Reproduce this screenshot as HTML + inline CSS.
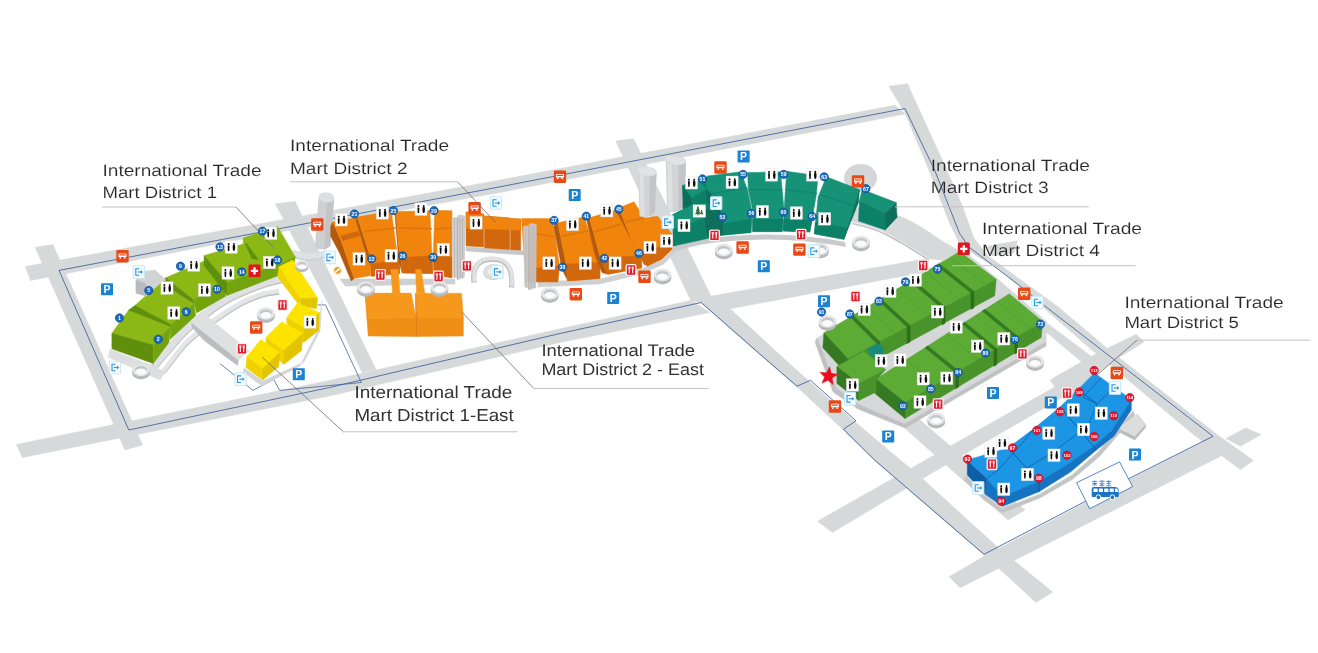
<!DOCTYPE html>
<html><head><meta charset="utf-8"><title>International Trade Mart Map</title>
<style>
html,body{margin:0;padding:0;background:#fff;}
body{width:1318px;height:653px;overflow:hidden;font-family:"Liberation Sans",sans-serif;}
svg{display:block;}
text{font-family:"Liberation Sans",sans-serif;}
</style></head><body>
<svg width="1318" height="653" viewBox="0 0 1318 653">
<defs><filter id="soft" filterUnits="userSpaceOnUse" x="0" y="0" width="1318" height="653"><feGaussianBlur stdDeviation="0.45"/></filter></defs>
<rect width="1318" height="653" fill="#ffffff"/>
<g filter="url(#soft)">
<g id="roads">
<polygon points="25.3,266.5 500.0,180.0 895.0,105.3 905.0,114.0 500.0,192.5 272.0,233.5 30.6,280.5" fill="#d6d9d9"  stroke="#d6d9d9" stroke-width="0.5" stroke-linejoin="round"/>
<polygon points="35.2,247.5 52.8,244.4 142.5,445.0 125.0,450.0" fill="#d6d9d9"  stroke="#d6d9d9" stroke-width="0.5" stroke-linejoin="round"/>
<polygon points="16.2,444.5 329.5,380.5 560.0,328.8 691.0,300.4 710.0,312.5 560.0,342.5 329.5,396.0 22.5,457.5" fill="#d6d9d9"  stroke="#d6d9d9" stroke-width="0.5" stroke-linejoin="round"/>
<polygon points="275.3,203.8 295.2,201.6 350.0,316.0 376.0,369.5 362.0,372.5 336.0,318.0" fill="#d6d9d9"  stroke="#d6d9d9" stroke-width="0.5" stroke-linejoin="round"/>
<polygon points="615.7,141.0 633.5,138.7 712.0,298.0 691.0,301.0" fill="#d6d9d9"  stroke="#d6d9d9" stroke-width="0.5" stroke-linejoin="round"/>
<polygon points="691.0,301.0 701.2,303.0 760.0,354.9 797.0,386.9 843.4,429.9 874.6,460.7 984.0,555.0 1036.0,602.4 1052.6,592.1 997.0,546.6 921.1,477.5 857.0,423.6 792.9,366.8 730.0,308.8 712.0,297.0" fill="#d6d9d9"  stroke="#d6d9d9" stroke-width="0.5" stroke-linejoin="round"/>
<polygon points="710.0,296.2 925.0,259.0 925.0,272.0 730.0,308.8" fill="#d6d9d9"  stroke="#d6d9d9" stroke-width="0.5" stroke-linejoin="round"/>
<polygon points="888.8,86.2 907.5,83.8 946.8,170.0 962.0,205.0 973.7,237.7 987.6,255.6 1019.5,279.0 1057.4,306.2 1106.2,347.5 1217.0,434.5 1253.4,460.6 1240.4,469.7 1194.0,435.0 1091.0,349.2 1045.6,309.6 1000.0,270.0 975.0,255.0 959.7,243.7 949.8,223.8 928.9,170.0 905.0,113.0" fill="#d6d9d9"  stroke="#d6d9d9" stroke-width="0.5" stroke-linejoin="round"/>
<polygon points="988.0,246.0 1017.5,240.7 1014.0,253.0 992.0,256.0" fill="#d6d9d9"  stroke="#d6d9d9" stroke-width="0.5" stroke-linejoin="round"/>
<path d="M852,212 L862,205 Q897,211 926,229.8 Q945,244 963,252 L955,262 L929,259 Q908,244 886,233 Q872,226 852,222 Z" fill="#d6d9d9"/>
<path d="M929,260.5 Q908,245.5 886,234.5 Q872,227.5 852,223.5" fill="none" stroke="#c3c4c6" stroke-width="1.6"/>
<polygon points="949.1,576.8 984.0,556.3 1131.0,478.6 1213.0,437.0 1229.0,452.0 960.1,587.8" fill="#d6d9d9"  stroke="#d6d9d9" stroke-width="0.5" stroke-linejoin="round"/>
<polygon points="817.5,521.2 950.0,446.2 1060.0,384.0 1072.0,392.0 920.0,480.0 832.5,532.5" fill="#d6d9d9"  stroke="#d6d9d9" stroke-width="0.5" stroke-linejoin="round"/>
<polygon points="900.0,424.0 920.0,420.0 1025.0,510.0 1008.0,520.0" fill="#d6d9d9"  stroke="#d6d9d9" stroke-width="0.5" stroke-linejoin="round"/>
<polygon points="1041.4,328.1 1048.1,323.9 1091.9,356.8 1100.0,372.0 1084.3,364.3" fill="#d6d9d9"  stroke="#d6d9d9" stroke-width="0.5" stroke-linejoin="round"/>
<polygon points="1050.0,380.0 1090.0,357.0 1106.0,349.0 1118.0,358.0 1096.0,374.0 1080.0,390.0 1064.0,400.0" fill="#d6d9d9"  stroke="#d6d9d9" stroke-width="0.5" stroke-linejoin="round"/>
<polygon points="1106.0,349.0 1136.3,334.3 1144.0,342.0 1118.0,358.0" fill="#d6d9d9"  stroke="#d6d9d9" stroke-width="0.5" stroke-linejoin="round"/>
<polygon points="1226.0,438.4 1245.6,428.0 1261.2,434.5 1240.4,446.2" fill="#d6d9d9"  stroke="#d6d9d9" stroke-width="0.5" stroke-linejoin="round"/>
<path d="M293,250 Q308,257 324.5,251 L325,258 Q308,264.5 292,257 Z" fill="#cfd1d3"/>
<path d="M293,249.5 Q308,256 324.5,250.5 L324.8,256 Q308,262.5 292.5,255.5 Z" fill="#dfe0e2"/>
<polyline points="59.0,270.4 500.0,186.8 905.0,108.5 934.6,170.0 959.7,233.7 969.7,247.7 1019.5,285.5 1047.3,307.9 1114.7,360.1 1213.0,436.3 1131.0,477.5 984.0,554.3 874.6,460.0 843.4,429.2 856.0,420.8 810.5,380.3 797.0,386.2 760.0,354.2 701.2,302.5 560.0,333.5 329.5,387.5 128.8,430.0 59.0,270.4" fill="none" stroke="#44669f" stroke-width="0.9" stroke-linejoin="round"/>
<polyline points="220.0,363.6 245.9,384.5 252.8,390.4 273.7,379.5 279.7,390.4 361.3,382.5 325.5,304.9 317.5,304.9" fill="none" stroke="#44669f" stroke-width="0.8" />
</g>
<g id="d1">
<path d="M153.9,366.9 C157.6,362.6 169.6,348.2 176.0,341.2 C182.4,334.1 184.2,331.4 192.5,324.6 C200.8,317.9 214.6,307.1 225.6,300.7 C236.6,294.3 249.5,289.5 258.7,286.0 C267.9,282.5 277.3,280.8 281.0,279.8" fill="none" stroke="#c2c3c5" stroke-width="7.5" />
<path d="M153.9,365.6 C157.6,361.3 169.6,346.9 176.0,339.9 C182.4,332.8 184.2,330.1 192.5,323.3 C200.8,316.6 214.6,305.8 225.6,299.4 C236.6,293.0 249.5,288.2 258.7,284.7 C267.9,281.2 277.3,279.5 281.0,278.5" fill="none" stroke="#dfe0e2" stroke-width="7" />
<path d="M163.1,372.4 C166.8,367.8 179.0,351.5 185.1,344.8 C191.2,338.1 195.0,336.0 199.9,332.0 C204.8,328.0 207.9,325.5 214.6,320.9 C221.3,316.3 232.3,308.7 240.3,304.4 C248.3,300.1 255.9,297.2 262.4,295.2 C268.8,293.2 276.2,292.8 279.0,292.3" fill="none" stroke="#c2c3c5" stroke-width="5" />
<path d="M163.1,371.1 C166.8,366.5 179.0,350.2 185.1,343.5 C191.2,336.8 195.0,334.7 199.9,330.7 C204.8,326.7 207.9,324.2 214.6,319.6 C221.3,315.0 232.3,307.4 240.3,303.1 C248.3,298.8 255.9,295.9 262.4,293.9 C268.8,291.9 276.2,291.5 279.0,291.0" fill="none" stroke="#e4e5e6" stroke-width="4.4" />
<polygon points="110.0,349.0 153.0,366.0 165.0,372.0 160.0,380.0 108.0,357.0" fill="#dcdedf"  stroke="#dcdedf" stroke-width="0.5" stroke-linejoin="round"/>
<polygon points="111.9,333.2 128.5,310.2 170.8,325.8 153.3,345.1" fill="#8cb814"  stroke="#8cb814" stroke-width="0.5" stroke-linejoin="round"/>
<polygon points="111.9,333.2 153.3,345.1 153.3,363.5 111.9,348.8" fill="#5f8f0e"  stroke="#5f8f0e" stroke-width="0.5" stroke-linejoin="round"/>
<polygon points="153.3,345.1 170.8,325.8 168.9,342.4 153.3,363.5" fill="#73a410"  stroke="#73a410" stroke-width="0.5" stroke-linejoin="round"/>
<polygon points="134.9,305.6 160.5,282.4 194.0,303.5 171.0,324.5" fill="#8cb814"  stroke="#8cb814" stroke-width="0.5" stroke-linejoin="round"/>
<polygon points="134.9,305.6 171.0,324.5 170.8,326.5 128.5,310.2" fill="#5f8f0e"  stroke="#5f8f0e" stroke-width="0.5" stroke-linejoin="round"/>
<polygon points="171.0,324.5 194.0,303.5 195.6,315.7 169.9,339.6" fill="#73a410"  stroke="#73a410" stroke-width="0.5" stroke-linejoin="round"/>
<polygon points="165.8,277.8 204.1,260.9 225.6,283.5 193.4,299.7" fill="#8cb814"  stroke="#8cb814" stroke-width="0.5" stroke-linejoin="round"/>
<polygon points="165.8,277.8 193.4,299.7 194.0,303.5 160.5,282.4" fill="#5f8f0e"  stroke="#5f8f0e" stroke-width="0.5" stroke-linejoin="round"/>
<polygon points="193.4,299.7 225.6,283.5 225.6,296.2 196.5,313.0" fill="#73a410"  stroke="#73a410" stroke-width="0.5" stroke-linejoin="round"/>
<polygon points="204.1,255.6 243.2,244.1 243.2,238.0 277.6,226.5 295.3,257.1 279.2,264.0 227.1,282.4" fill="#8cb814"  stroke="#8cb814" stroke-width="0.5" stroke-linejoin="round"/>
<polygon points="204.1,255.6 227.1,282.4 227.1,295.4 204.1,265.5" fill="#5f8f0e"  stroke="#5f8f0e" stroke-width="0.5" stroke-linejoin="round"/>
<polygon points="227.1,282.4 279.2,264.0 295.3,257.1 293.0,268.0 278.4,275.5 227.1,295.4" fill="#73a410"  stroke="#73a410" stroke-width="0.5" stroke-linejoin="round"/>
<polygon points="245.0,243.5 247.0,244.0 258.5,260.0 252.0,258.5" fill="#5f8f0e"  stroke="#5f8f0e" stroke-width="0.5" stroke-linejoin="round"/>
<polygon points="139.0,272.0 155.0,270.0 166.0,280.0 160.5,283.0 146.0,296.0 136.0,293.0 136.0,280.0" fill="#d2d3d5"  stroke="#d2d3d5" stroke-width="0.5" stroke-linejoin="round"/>
<polygon points="136.0,280.0 146.0,284.0 146.0,296.0 136.0,293.0" fill="#b9babd"  stroke="#b9babd" stroke-width="0.5" stroke-linejoin="round"/>
<polygon points="191.6,322.4 238.5,360.1 237.5,365.5 203.5,340.0 192.0,327.0" fill="#bcbdbf"  stroke="#bcbdbf" stroke-width="0.5" stroke-linejoin="round"/>
<polygon points="191.6,322.4 205.4,315.0 249.5,350.9 238.5,360.1" fill="#dfe0e2"  stroke="#dfe0e2" stroke-width="0.5" stroke-linejoin="round"/>
<polygon points="244.0,368.0 263.0,381.0 304.0,362.0 320.0,331.0 322.0,300.0 318.0,330.0 300.0,366.0 262.0,386.0 243.0,372.0" fill="#d3d4d6"  stroke="#d3d4d6" stroke-width="0.5" stroke-linejoin="round"/>
<polygon points="278.7,266.9 292.6,260.0 317.5,297.8 300.6,298.8" fill="#fde300"  stroke="#fde300" stroke-width="0.5" stroke-linejoin="round"/>
<polygon points="278.7,266.9 300.6,298.8 299.6,306.0 277.7,277.0" fill="#f0d200"  stroke="#f0d200" stroke-width="0.5" stroke-linejoin="round"/>
<polygon points="300.6,298.8 317.5,297.8 316.5,308.5 300.6,306.5" fill="#e3c400"  stroke="#e3c400" stroke-width="0.5" stroke-linejoin="round"/>
<polygon points="286.7,317.7 297.6,302.8 319.5,312.7 303.6,327.6" fill="#fde300"  stroke="#fde300" stroke-width="0.5" stroke-linejoin="round"/>
<polygon points="286.7,317.7 303.6,327.6 303.6,342.6 286.7,323.0" fill="#f0d200"  stroke="#f0d200" stroke-width="0.5" stroke-linejoin="round"/>
<polygon points="303.6,327.6 319.5,312.7 318.5,330.6 303.6,342.6" fill="#e3c400"  stroke="#e3c400" stroke-width="0.5" stroke-linejoin="round"/>
<polygon points="265.8,337.6 281.7,321.7 302.6,333.6 283.7,350.5" fill="#fde300"  stroke="#fde300" stroke-width="0.5" stroke-linejoin="round"/>
<polygon points="265.8,337.6 283.7,350.5 283.7,364.5 266.8,348.5" fill="#f0d200"  stroke="#f0d200" stroke-width="0.5" stroke-linejoin="round"/>
<polygon points="283.7,350.5 302.6,333.6 301.6,350.5 283.7,364.5" fill="#e3c400"  stroke="#e3c400" stroke-width="0.5" stroke-linejoin="round"/>
<polygon points="246.9,356.5 260.8,339.6 279.7,352.5 262.8,368.4" fill="#fde300"  stroke="#fde300" stroke-width="0.5" stroke-linejoin="round"/>
<polygon points="246.9,356.5 262.8,368.4 262.8,380.0 245.9,367.4" fill="#f0d200"  stroke="#f0d200" stroke-width="0.5" stroke-linejoin="round"/>
<polygon points="262.8,368.4 279.7,352.5 278.7,366.4 262.8,380.0" fill="#e3c400"  stroke="#e3c400" stroke-width="0.5" stroke-linejoin="round"/>
</g>
<g id="d2">
<polygon points="340.0,279.0 455.0,279.0 455.0,284.0 345.0,286.0" fill="#cfd0d2"  stroke="#cfd0d2" stroke-width="0.5" stroke-linejoin="round"/>
<path d="M318.4,199 Q318.6,193 326.3,192.6 Q334,193 334,199 L330.3,246 Q323,252.5 315,247 Z" fill="#cfd0d2"/>
<path d="M327,201 L334,199 L330.3,246 L324,250 Z" fill="#c3c4c7"/>
<ellipse cx="326.2" cy="197.6" rx="7.8" ry="4.6" fill="#dedfe1" transform="rotate(12 326.2 197.6)"/>
<polygon points="330.7,226.0 332.7,221.9 341.0,240.5 354.1,278.4 351.3,281.0 339.6,252.9 330.7,236.3" fill="#b25a08"  stroke="#b25a08" stroke-width="0.5" stroke-linejoin="round"/>
<polygon points="332.7,221.9 356.2,217.7 363.1,236.3 369.3,254.3 370.6,275.6 354.1,278.4 341.0,240.5" fill="#f0840e"  stroke="#f0840e" stroke-width="0.5" stroke-linejoin="round"/>
<polygon points="340.6,235.9 358.2,231.3 359.8,235.8 342.6,240.8" fill="#d2680a"  stroke="#d2680a" stroke-width="0.5" stroke-linejoin="round"/>
<polygon points="356.0,220.5 357.5,217.1 369.3,254.3 370.6,266.0 367.0,256.0" fill="#b25a08"  stroke="#b25a08" stroke-width="0.5" stroke-linejoin="round"/>
<polygon points="357.5,217.1 391.3,210.8 396.1,246.0 399.6,258.4 399.6,273.6 371.3,276.3 369.3,254.3" fill="#f0840e"  stroke="#f0840e" stroke-width="0.5" stroke-linejoin="round"/>
<polygon points="370.6,264.6 399.6,258.4 399.6,273.6 371.3,276.3" fill="#d2680a"  stroke="#d2680a" stroke-width="0.5" stroke-linejoin="round"/>
<polyline points="364.5,231.5 395.5,228.0" fill="none" stroke="#de760a" stroke-width="1.6" />
<polygon points="395.0,215.0 396.1,211.5 398.2,243.2 401.0,258.4 402.3,272.9 399.0,262.0" fill="#b25a08"  stroke="#b25a08" stroke-width="0.5" stroke-linejoin="round"/>
<polygon points="396.1,211.5 429.9,210.8 432.0,255.6 432.7,273.6 402.3,272.9 401.0,258.4 398.2,243.2" fill="#f0840e"  stroke="#f0840e" stroke-width="0.5" stroke-linejoin="round"/>
<polygon points="401.6,257.7 432.0,255.6 432.7,273.6 402.3,272.9" fill="#d2680a"  stroke="#d2680a" stroke-width="0.5" stroke-linejoin="round"/>
<polyline points="398.2,228.0 431.9,228.8" fill="none" stroke="#de760a" stroke-width="1.6" />
<polygon points="434.7,210.2 452.0,210.8 452.0,277.7 434.0,274.9 433.3,255.6" fill="#f0840e"  stroke="#f0840e" stroke-width="0.5" stroke-linejoin="round"/>
<polygon points="433.3,255.6 452.0,257.0 452.0,277.7 434.0,274.9" fill="#d2680a"  stroke="#d2680a" stroke-width="0.5" stroke-linejoin="round"/>
<polyline points="434.5,229.0 452.0,228.0" fill="none" stroke="#de760a" stroke-width="1.6" />
<polygon points="466.0,212.0 483.7,214.0 483.7,247.0 466.0,246.0" fill="#d2680a"  stroke="#d2680a" stroke-width="0.5" stroke-linejoin="round"/>
<polygon points="466.0,212.0 483.7,214.0 483.7,229.0 466.0,228.0" fill="#f0840e"  stroke="#f0840e" stroke-width="0.5" stroke-linejoin="round"/>
<polygon points="484.5,216.0 509.8,218.0 509.8,250.6 484.5,249.0" fill="#d2680a"  stroke="#d2680a" stroke-width="0.5" stroke-linejoin="round"/>
<polygon points="484.5,216.0 509.8,218.0 509.8,229.5 484.5,229.0" fill="#f0840e"  stroke="#f0840e" stroke-width="0.5" stroke-linejoin="round"/>
<polygon points="510.6,218.6 520.7,219.0 520.7,250.6 510.6,250.6" fill="#d2680a"  stroke="#d2680a" stroke-width="0.5" stroke-linejoin="round"/>
<polygon points="510.6,218.6 520.7,219.0 520.7,230.0 510.6,230.0" fill="#f0840e"  stroke="#f0840e" stroke-width="0.5" stroke-linejoin="round"/>
<polygon points="466.0,247.0 524.0,251.0 524.0,255.0 466.0,251.0" fill="#c6c7c9"  stroke="#c6c7c9" stroke-width="0.5" stroke-linejoin="round"/>
<polygon points="538.0,282.0 600.0,279.0 640.0,269.5 662.0,260.0 674.0,249.0 675.0,253.0 663.0,264.5 641.0,274.0 600.0,284.0 538.0,287.0" fill="#cfd0d2"  stroke="#cfd0d2" stroke-width="0.5" stroke-linejoin="round"/>
<polygon points="521.6,218.6 551.9,218.6 555.3,237.2 559.5,265.8 557.8,281.8 526.0,281.8 523.0,240.0" fill="#f0840e"  stroke="#f0840e" stroke-width="0.5" stroke-linejoin="round"/>
<polygon points="526.0,269.0 559.5,265.8 557.8,281.8 526.0,281.8" fill="#d2680a"  stroke="#d2680a" stroke-width="0.5" stroke-linejoin="round"/>
<polyline points="525.0,232.0 554.5,236.5" fill="none" stroke="#de760a" stroke-width="1.6" />
<polygon points="553.6,226.2 557.8,222.8 566.2,264.1 567.9,280.9 562.0,269.2" fill="#b25a08"  stroke="#b25a08" stroke-width="0.5" stroke-linejoin="round"/>
<polygon points="557.8,222.8 583.9,216.9 599.9,262.4 599.9,278.4 567.9,280.9 566.2,264.1" fill="#f0840e"  stroke="#f0840e" stroke-width="0.5" stroke-linejoin="round"/>
<polygon points="566.2,264.1 599.9,262.4 599.9,278.4 567.9,280.9" fill="#d2680a"  stroke="#d2680a" stroke-width="0.5" stroke-linejoin="round"/>
<polyline points="560.5,236.5 588.5,231.0" fill="none" stroke="#de760a" stroke-width="1.6" />
<polygon points="586.9,221.2 589.4,217.8 600.3,257.4 607.9,274.3 602.0,272.6 595.3,255.8" fill="#b25a08"  stroke="#b25a08" stroke-width="0.5" stroke-linejoin="round"/>
<polygon points="589.4,217.8 617.5,209.4 641.0,255.8 641.0,268.4 607.9,274.3 600.3,257.4" fill="#f0840e"  stroke="#f0840e" stroke-width="0.5" stroke-linejoin="round"/>
<polygon points="600.3,257.4 641.0,255.8 642.0,267.4 607.9,274.3" fill="#d2680a"  stroke="#d2680a" stroke-width="0.5" stroke-linejoin="round"/>
<polyline points="593.5,232.0 621.5,224.0" fill="none" stroke="#de760a" stroke-width="1.6" />
<polygon points="616.3,211.1 618.9,207.7 637.4,252.4 647.5,265.9 644.1,264.2" fill="#b25a08"  stroke="#b25a08" stroke-width="0.5" stroke-linejoin="round"/>
<polygon points="618.9,207.7 634.0,201.8 644.1,217.9 657.6,216.2 671.9,233.9 672.8,248.2 661.8,259.1 647.5,265.9 637.4,255.8" fill="#f0840e"  stroke="#f0840e" stroke-width="0.5" stroke-linejoin="round"/>
<polygon points="637.4,255.8 661.8,246.0 672.8,248.2 661.8,259.1 647.5,265.9" fill="#d2680a"  stroke="#d2680a" stroke-width="0.5" stroke-linejoin="round"/>
<polyline points="625.6,222.0 644.1,217.9" fill="none" stroke="#de760a" stroke-width="1.6" />
<path d="M451.7,219.3 Q451.7,217.3 453.7,217.3 L457.37,217.3 L457.37,278.6 L452.7,276.6 Z" fill="#cfcdcd" fill-opacity="0.93"/>
<path d="M457.37,216.8 Q457.37,214.8 459.37,214.8 L463.2,215.3 Q465.2,215.3 465.2,217.3 L464.7,277.6 L457.37,280.1 Z" fill="#c9c7c8" fill-opacity="0.93"/>
<path d="M454.4,218.3 L454.4,277.6" stroke="#b7b5b6" stroke-width="0.9" fill="none"/>
<path d="M460.07,218.3 L460.07,277.6" stroke="#b7b5b6" stroke-width="0.9" fill="none"/>
<path d="M462.5,218.3 L462.5,277.6" stroke="#b7b5b6" stroke-width="0.9" fill="none"/>
<path d="M457.37,217.3 L457.37,279.6" stroke="#aeacad" stroke-width="1" fill="none"/>
<path d="M523.3,227.7 Q523.3,225.7 525.3,225.7 L528.928,225.7 L528.928,288.7 L524.3,286.7 Z" fill="#cfcdcd" fill-opacity="0.93"/>
<path d="M528.928,225.2 Q528.928,223.2 530.928,223.2 L534.7,223.7 Q536.7,223.7 536.7,225.7 L536.2,287.7 L528.928,290.2 Z" fill="#c9c7c8" fill-opacity="0.93"/>
<path d="M525.98,226.7 L525.98,287.7" stroke="#b7b5b6" stroke-width="0.9" fill="none"/>
<path d="M531.6080000000001,226.7 L531.6080000000001,287.7" stroke="#b7b5b6" stroke-width="0.9" fill="none"/>
<path d="M534.02,226.7 L534.02,287.7" stroke="#b7b5b6" stroke-width="0.9" fill="none"/>
<path d="M528.928,225.7 L528.928,289.7" stroke="#aeacad" stroke-width="1" fill="none"/>
<polygon points="390.8,269.4 398.1,269.4 400.0,293.3 392.6,293.3" fill="#f6981e"  stroke="#f6981e" stroke-width="0.5" stroke-linejoin="round"/>
<polygon points="415.6,269.4 421.0,269.4 424.8,293.3 416.5,293.3" fill="#f6981e"  stroke="#f6981e" stroke-width="0.5" stroke-linejoin="round"/>
<polygon points="365.0,293.3 411.0,293.3 415.6,317.2 368.7,319.0" fill="#f6981e"  stroke="#f6981e" stroke-width="0.5" stroke-linejoin="round"/>
<polygon points="365.0,293.3 368.7,319.0 415.6,317.2 415.6,336.5 368.2,336.0" fill="#f08f18"  stroke="#f08f18" stroke-width="0.5" stroke-linejoin="round"/>
<polygon points="365.0,293.3 411.0,293.3 415.6,317.2 368.7,319.0" fill="#f6981e"  stroke="#f6981e" stroke-width="0.5" stroke-linejoin="round"/>
<polygon points="415.6,293.3 461.5,293.3 463.4,317.2 417.0,318.0" fill="#f6981e"  stroke="#f6981e" stroke-width="0.5" stroke-linejoin="round"/>
<polygon points="417.0,318.0 463.4,317.2 463.4,336.0 417.4,336.5" fill="#f08f18"  stroke="#f08f18" stroke-width="0.5" stroke-linejoin="round"/>
<polygon points="415.6,293.3 417.0,318.0 417.4,336.5 415.6,336.5" fill="#e0801a"  stroke="#e0801a" stroke-width="0.5" stroke-linejoin="round"/>
<ellipse cx="493.6" cy="272.5" rx="10.5" ry="7.6" fill="#c9cbcd"/>
<ellipse cx="493.6" cy="271.3" rx="10.5" ry="7.6" fill="#dddee0"/>
<ellipse cx="493.6" cy="271.6" rx="6" ry="4" fill="#eeeeef"/>
<path d="M474,282.5 Q471,258 494.7,259.5 Q514,260.5 511.5,287.5" fill="none" stroke="#bfc0c3" stroke-width="5.2"/>
<path d="M474.4,281.5 Q471.5,257 494.7,258.5 Q514.4,259.5 511.9,286.5" fill="none" stroke="#e0e1e3" stroke-width="3.6"/>
</g>
<g id="d3">
<ellipse cx="860.5" cy="178" rx="16.5" ry="14" fill="#d5d6d8"/>
<path d="M672,247 Q700,238 730,236 Q790,231 845,242 L846,247 Q790,236 730,241 Q700,243 673,252 Z" fill="#c9cacc"/>
<path d="M638,172.4 Q638,167.4 647.25,166.9 Q656.5,167.4 656.5,172.4 L655.0,212 Q647.25,220 639.5,216 Z" fill="#d3d4d6"/>
<path d="M649.47,173.4 L656.5,172.4 L655.0,212 L649.47,216.5 Z" fill="#c4c5c8"/>
<path d="M639.5,173.4 L643.55,174.4 L644.55,216 L640.5,215.5 Z" fill="#dfe0e2"/>
<ellipse cx="647.25" cy="171.4" rx="9.25" ry="4.2" fill="#e1e2e4" transform="rotate(10 647.25 171.4)"/>
<path d="M665.7,161.4 Q665.7,156.4 675.85,155.9 Q686,156.4 686,161.4 L684.5,206.7 Q675.85,214.7 667.2,210.7 Z" fill="#d3d4d6"/>
<path d="M678.2860000000001,162.4 L686,161.4 L684.5,206.7 L678.2860000000001,211.2 Z" fill="#c4c5c8"/>
<path d="M667.2,162.4 L671.7900000000001,163.4 L672.7900000000001,210.7 L668.2,210.2 Z" fill="#dfe0e2"/>
<ellipse cx="675.85" cy="160.4" rx="10.149999999999977" ry="4.2" fill="#e1e2e4" transform="rotate(10 675.85 160.4)"/>
<polygon points="683.0,187.0 707.0,177.0 724.0,217.0 724.0,235.0 673.5,245.9 672.6,214.7 683.2,209.5" fill="#0f8068"  stroke="#0f8068" stroke-width="0.5" stroke-linejoin="round"/>
<polygon points="682.7,186.0 692.0,199.0 693.0,205.0 683.2,210.0" fill="#0c6e5a"  stroke="#0c6e5a" stroke-width="0.5" stroke-linejoin="round"/>
<polygon points="682.7,185.3 698.7,179.4 706.3,189.5 691.2,198.7" fill="#149277"  stroke="#149277" stroke-width="0.5" stroke-linejoin="round"/>
<polygon points="682.7,185.3 691.2,198.7 692.0,206.0 683.5,199.6" fill="#0c6e5a"  stroke="#0c6e5a" stroke-width="0.5" stroke-linejoin="round"/>
<polygon points="691.2,198.7 706.3,189.5 710.5,193.7 712.0,204.0 692.0,206.0" fill="#0f8068"  stroke="#0f8068" stroke-width="0.5" stroke-linejoin="round"/>
<polygon points="672.6,214.7 692.8,204.6 706.3,208.9 704.6,218.1 673.5,229.9" fill="#149277"  stroke="#149277" stroke-width="0.5" stroke-linejoin="round"/>
<polygon points="673.5,229.9 704.6,218.1 707.2,234.1 673.5,245.9" fill="#0f8068"  stroke="#0f8068" stroke-width="0.5" stroke-linejoin="round"/>
<polygon points="704.6,218.1 706.3,208.9 723.2,217.3 724.0,235.0 707.2,234.1" fill="#0c6e5a"  stroke="#0c6e5a" stroke-width="0.5" stroke-linejoin="round"/>
<polygon points="707.2,176.0 740.9,171.8 747.6,190.3 751.8,210.5 751.0,232.4 724.0,235.0 723.2,217.3 710.5,193.7 706.3,189.5" fill="#149277"  stroke="#149277" stroke-width="0.5" stroke-linejoin="round"/>
<polygon points="723.5,224.0 751.5,219.0 751.0,232.4 724.0,235.0" fill="#0f8068"  stroke="#0f8068" stroke-width="0.5" stroke-linejoin="round"/>
<polyline points="710.5,193.7 747.6,188.0" fill="none" stroke="#108570" stroke-width="1.2" />
<polygon points="706.3,189.5 710.5,193.7 723.2,217.3 718.0,216.0 707.0,200.0" fill="#0c6e5a"  stroke="#0c6e5a" stroke-width="0.5" stroke-linejoin="round"/>
<polygon points="747.6,172.6 780.5,171.8 783.8,207.2 782.1,231.6 752.7,231.6 752.7,210.5 748.4,190.3" fill="#149277"  stroke="#149277" stroke-width="0.5" stroke-linejoin="round"/>
<polygon points="752.7,219.0 783.0,219.0 782.1,231.6 752.7,231.6" fill="#0f8068"  stroke="#0f8068" stroke-width="0.5" stroke-linejoin="round"/>
<polyline points="748.4,189.5 782.0,190.0" fill="none" stroke="#108570" stroke-width="1.2" />
<polygon points="786.8,171.3 818.1,175.8 816.3,195.1 809.8,231.9 783.2,231.0 785.0,195.1" fill="#149277"  stroke="#149277" stroke-width="0.5" stroke-linejoin="round"/>
<polygon points="783.8,219.0 812.0,220.5 809.8,231.9 783.2,231.0" fill="#0f8068"  stroke="#0f8068" stroke-width="0.5" stroke-linejoin="round"/>
<polyline points="785.5,189.5 817.0,193.5" fill="none" stroke="#108570" stroke-width="1.2" />
<polygon points="826.4,176.8 859.4,189.6 852.1,213.5 843.8,239.3 814.4,233.8 818.1,197.0" fill="#149277"  stroke="#149277" stroke-width="0.5" stroke-linejoin="round"/>
<polygon points="815.3,222.0 847.5,228.0 843.8,239.3 814.4,233.8" fill="#0f8068"  stroke="#0f8068" stroke-width="0.5" stroke-linejoin="round"/>
<polygon points="859.4,189.6 858.5,202.4 843.8,239.3 852.1,213.5" fill="#0c6e5a"  stroke="#0c6e5a" stroke-width="0.5" stroke-linejoin="round"/>
<polyline points="820.0,194.5 855.0,206.0" fill="none" stroke="#108570" stroke-width="1.2" />
<polygon points="862.2,189.6 896.2,202.5 885.2,213.5 859.4,200.7" fill="#149277"  stroke="#149277" stroke-width="0.5" stroke-linejoin="round"/>
<polygon points="859.4,200.7 885.2,213.5 885.2,230.0 858.5,220.9" fill="#0f8068"  stroke="#0f8068" stroke-width="0.5" stroke-linejoin="round"/>
<polygon points="885.2,213.5 896.2,202.5 897.1,217.2 885.2,230.0" fill="#0c6e5a"  stroke="#0c6e5a" stroke-width="0.5" stroke-linejoin="round"/>
</g>
<g id="d4">
<polygon points="817.0,338.0 822.0,350.0 836.0,388.0 860.0,405.0 905.0,424.0 1046.0,342.0 1047.0,322.0 1000.0,281.0 962.0,249.0 940.0,262.0" fill="#d6d7d9"  stroke="#d6d7d9" stroke-width="0.5" stroke-linejoin="round"/>
<polygon points="817.0,338.0 822.0,350.0 836.0,388.0 860.0,405.0 905.0,424.0 1046.0,342.0 1046.0,346.0 905.0,428.0 858.0,409.0 833.0,392.0 815.0,342.0" fill="#bfc0c2"  stroke="#bfc0c2" stroke-width="0.5" stroke-linejoin="round"/>
<polygon points="823.9,332.8 959.8,251.6 996.2,279.3 847.8,358.7" fill="#5bab35"  stroke="#5bab35" stroke-width="0.5" stroke-linejoin="round"/>
<polygon points="847.8,358.7 996.2,279.3 994.7,295.8 847.8,375.2" fill="#48942a"  stroke="#48942a" stroke-width="0.5" stroke-linejoin="round"/>
<polygon points="823.9,332.8 847.8,358.7 847.8,375.2 822.9,347.8" fill="#367a20"  stroke="#367a20" stroke-width="0.5" stroke-linejoin="round"/>
<polyline points="867.4,306.8 895.3,333.3" fill="none" stroke="#52a02f" stroke-width="1" />
<polyline points="897.3,289.0 927.9,315.8" fill="none" stroke="#52a02f" stroke-width="1" />
<polyline points="925.8,271.9 959.1,299.1" fill="none" stroke="#52a02f" stroke-width="1" />
<polyline points="950.3,257.3 985.8,284.9" fill="none" stroke="#52a02f" stroke-width="1" />
<polygon points="853.1,315.3 879.7,341.6 876.8,343.4 850.2,317.1" fill="#367a20"  stroke="#367a20" stroke-width="0.5" stroke-linejoin="round"/>
<polygon points="879.7,341.6 876.8,343.4 876.8,359.9 879.7,358.1" fill="#2f6c1b"  stroke="#2f6c1b" stroke-width="0.5" stroke-linejoin="round"/>
<polygon points="881.0,298.7 910.1,325.4 907.2,327.1 878.1,300.4" fill="#367a20"  stroke="#367a20" stroke-width="0.5" stroke-linejoin="round"/>
<polygon points="910.1,325.4 907.2,327.1 907.2,343.6 910.1,341.9" fill="#2f6c1b"  stroke="#2f6c1b" stroke-width="0.5" stroke-linejoin="round"/>
<polygon points="912.9,279.6 945.0,306.7 942.1,308.4 910.0,281.4" fill="#367a20"  stroke="#367a20" stroke-width="0.5" stroke-linejoin="round"/>
<polygon points="945.0,306.7 942.1,308.4 942.1,324.9 945.0,323.2" fill="#2f6c1b"  stroke="#2f6c1b" stroke-width="0.5" stroke-linejoin="round"/>
<polygon points="939.4,263.8 973.9,291.2 971.0,293.0 936.5,265.5" fill="#367a20"  stroke="#367a20" stroke-width="0.5" stroke-linejoin="round"/>
<polygon points="973.9,291.2 971.0,293.0 971.0,309.5 973.9,307.7" fill="#2f6c1b"  stroke="#2f6c1b" stroke-width="0.5" stroke-linejoin="round"/>
<polygon points="866.7,348.7 878.7,343.7 883.6,347.7 882.6,355.7 871.7,356.7" fill="#1b8a78"  stroke="#1b8a78" stroke-width="0.5" stroke-linejoin="round"/>
<polygon points="876.0,379.0 1009.3,293.8 1042.7,321.5 905.0,402.5" fill="#5bab35"  stroke="#5bab35" stroke-width="0.5" stroke-linejoin="round"/>
<polygon points="905.0,402.5 1042.7,321.5 1041.2,337.5 905.0,418.5" fill="#48942a"  stroke="#48942a" stroke-width="0.5" stroke-linejoin="round"/>
<polygon points="876.0,379.0 905.0,402.5 905.0,418.5 875.0,393.5" fill="#367a20"  stroke="#367a20" stroke-width="0.5" stroke-linejoin="round"/>
<polyline points="906.0,359.8 936.0,384.3" fill="none" stroke="#52a02f" stroke-width="1" />
<polyline points="946.6,333.8 978.0,359.6" fill="none" stroke="#52a02f" stroke-width="1" />
<polyline points="975.3,315.5 1007.6,342.2" fill="none" stroke="#52a02f" stroke-width="1" />
<polyline points="997.3,301.5 1030.3,328.8" fill="none" stroke="#52a02f" stroke-width="1" />
<polygon points="927.9,345.9 958.6,371.0 955.7,372.8 925.0,347.7" fill="#367a20"  stroke="#367a20" stroke-width="0.5" stroke-linejoin="round"/>
<polygon points="958.6,371.0 955.7,372.8 955.7,388.8 958.6,387.0" fill="#2f6c1b"  stroke="#2f6c1b" stroke-width="0.5" stroke-linejoin="round"/>
<polygon points="964.9,322.2 996.8,348.5 994.0,350.3 962.0,324.0" fill="#367a20"  stroke="#367a20" stroke-width="0.5" stroke-linejoin="round"/>
<polygon points="996.8,348.5 994.0,350.3 994.0,366.3 996.8,364.5" fill="#2f6c1b"  stroke="#2f6c1b" stroke-width="0.5" stroke-linejoin="round"/>
<polygon points="985.0,309.3 1017.6,336.2 1014.8,338.1 982.2,311.1" fill="#367a20"  stroke="#367a20" stroke-width="0.5" stroke-linejoin="round"/>
<polygon points="1017.6,336.2 1014.8,338.1 1014.8,354.1 1017.6,352.2" fill="#2f6c1b"  stroke="#2f6c1b" stroke-width="0.5" stroke-linejoin="round"/>
<polygon points="836.9,366.6 863.7,351.7 885.6,369.6 858.8,383.5" fill="#5bab35"  stroke="#5bab35" stroke-width="0.5" stroke-linejoin="round"/>
<polygon points="836.9,366.6 858.8,383.5 858.8,400.4 836.9,383.5" fill="#367a20"  stroke="#367a20" stroke-width="0.5" stroke-linejoin="round"/>
<polygon points="858.8,383.5 885.6,369.6 876.2,380.0 876.2,392.0 858.8,400.4" fill="#48942a"  stroke="#48942a" stroke-width="0.5" stroke-linejoin="round"/>
</g>
<g id="d5">
<polygon points="966.0,476.0 985.0,496.0 1002.0,509.0 1040.0,494.0 1072.0,475.0 1098.0,452.0 1133.0,411.0 1135.0,415.0 1100.0,456.0 1073.0,479.0 1040.0,498.0 1002.0,513.0 984.0,500.0 964.0,480.0" fill="#c3c4c6"  stroke="#c3c4c6" stroke-width="0.5" stroke-linejoin="round"/>
<polygon points="1118.0,428.0 1134.7,436.0 1145.7,424.1 1145.7,427.5 1134.7,440.0 1118.0,431.5" fill="#bbbcbe"  stroke="#bbbcbe" stroke-width="0.5" stroke-linejoin="round"/>
<polygon points="1118.0,428.0 1137.5,414.0 1145.7,424.1 1134.7,436.0" fill="#dcdddf"  stroke="#dcdddf" stroke-width="0.5" stroke-linejoin="round"/>
<polygon points="967.3,460.0 1008.0,448.0 1034.0,428.5 1060.0,407.0 1078.0,389.5 1094.5,373.0 1131.3,399.5 1111.8,430.7 1093.6,446.3 1067.5,464.5 1038.9,481.4 1002.5,497.0 986.8,478.8" fill="#1c95e4"  stroke="#1c95e4" stroke-width="0.5" stroke-linejoin="round"/>
<polygon points="967.3,460.6 986.8,478.8 985.5,494.5 967.3,474.9" fill="#0e5fa6"  stroke="#0e5fa6" stroke-width="0.5" stroke-linejoin="round"/>
<polygon points="986.8,478.8 1002.5,497.0 1038.9,481.4 1067.5,464.5 1093.6,446.3 1111.8,430.7 1131.3,399.5 1131.3,409.9 1114.0,436.0 1096.2,450.2 1070.1,472.3 1038.9,491.8 1002.5,506.2 985.5,494.5" fill="#1273c2"  stroke="#1273c2" stroke-width="0.5" stroke-linejoin="round"/>
<polyline points="1008.0,448.0 1038.9,481.4" fill="none" stroke="#0e5fa6" stroke-width="1" />
<polyline points="1034.0,428.5 1024.0,441.0 1000.0,468.0 986.8,478.8" fill="none" stroke="#0e5fa6" stroke-width="0.8" />
<polyline points="1060.0,407.0 1093.6,446.3" fill="none" stroke="#0e5fa6" stroke-width="1" />
<polyline points="1078.0,389.5 1097.0,404.0" fill="none" stroke="#0e5fa6" stroke-width="1" />
<polyline points="1101.0,378.0 1083.0,397.0 1097.0,404.0 1110.0,391.0" fill="none" stroke="#0e5fa6" stroke-width="0.8" />
<polyline points="1097.0,404.0 1088.0,426.0 1053.0,452.0 1024.0,470.0" fill="none" stroke="#0e5fa6" stroke-width="0.8" />
<polyline points="1038.9,481.4 1038.9,491.8" fill="none" stroke="#0e5fa6" stroke-width="1" />
<polyline points="1093.6,446.3 1096.2,450.2" fill="none" stroke="#0e5fa6" stroke-width="1" />
<polygon points="1076.6,482.7 1119.6,461.9 1132.6,486.6 1089.7,508.8" fill="#ffffff" stroke="#2a6fb5" stroke-width="0.8"/>
</g>
<g id="icons">
<path d="M132.2,370 v3.2 a8.8,6.2 0 0 0 17.6,0 v-3.2 z" fill="#b7b9bc"/><ellipse cx="141" cy="370" rx="8.8" ry="6.2" fill="#e4e5e7"/><ellipse cx="141" cy="370" rx="5.984000000000001" ry="4.0920000000000005" fill="#c3c5c8"/><ellipse cx="141" cy="371.6" rx="5.456" ry="3.1" fill="#fbfbfb"/>
<path d="M257.2,313.5 v3.2 a8.8,6.2 0 0 0 17.6,0 v-3.2 z" fill="#b7b9bc"/><ellipse cx="266" cy="313.5" rx="8.8" ry="6.2" fill="#e4e5e7"/><ellipse cx="266" cy="313.5" rx="5.984000000000001" ry="4.0920000000000005" fill="#c3c5c8"/><ellipse cx="266" cy="315.1" rx="5.456" ry="3.1" fill="#fbfbfb"/>
<path d="M357.2,287.5 v3.2 a8.8,6.2 0 0 0 17.6,0 v-3.2 z" fill="#b7b9bc"/><ellipse cx="366" cy="287.5" rx="8.8" ry="6.2" fill="#e4e5e7"/><ellipse cx="366" cy="287.5" rx="5.984000000000001" ry="4.0920000000000005" fill="#c3c5c8"/><ellipse cx="366" cy="289.1" rx="5.456" ry="3.1" fill="#fbfbfb"/>
<path d="M430.7,287.5 v3.2 a8.8,6.2 0 0 0 17.6,0 v-3.2 z" fill="#b7b9bc"/><ellipse cx="439.5" cy="287.5" rx="8.8" ry="6.2" fill="#e4e5e7"/><ellipse cx="439.5" cy="287.5" rx="5.984000000000001" ry="4.0920000000000005" fill="#c3c5c8"/><ellipse cx="439.5" cy="289.1" rx="5.456" ry="3.1" fill="#fbfbfb"/>
<path d="M541.0,293.5 v3.2 a8.8,6.2 0 0 0 17.6,0 v-3.2 z" fill="#b7b9bc"/><ellipse cx="549.8" cy="293.5" rx="8.8" ry="6.2" fill="#e4e5e7"/><ellipse cx="549.8" cy="293.5" rx="5.984000000000001" ry="4.0920000000000005" fill="#c3c5c8"/><ellipse cx="549.8" cy="295.1" rx="5.456" ry="3.1" fill="#fbfbfb"/>
<path d="M653.7,275 v3.2 a8.8,6.2 0 0 0 17.6,0 v-3.2 z" fill="#b7b9bc"/><ellipse cx="662.5" cy="275" rx="8.8" ry="6.2" fill="#e4e5e7"/><ellipse cx="662.5" cy="275" rx="5.984000000000001" ry="4.0920000000000005" fill="#c3c5c8"/><ellipse cx="662.5" cy="276.6" rx="5.456" ry="3.1" fill="#fbfbfb"/>
<path d="M714.95,250 v3.2 a8.8,6.2 0 0 0 17.6,0 v-3.2 z" fill="#b7b9bc"/><ellipse cx="723.75" cy="250" rx="8.8" ry="6.2" fill="#e4e5e7"/><ellipse cx="723.75" cy="250" rx="5.984000000000001" ry="4.0920000000000005" fill="#c3c5c8"/><ellipse cx="723.75" cy="251.6" rx="5.456" ry="3.1" fill="#fbfbfb"/>
<path d="M811.2,249 v3.2 a8.8,6.2 0 0 0 17.6,0 v-3.2 z" fill="#b7b9bc"/><ellipse cx="820" cy="249" rx="8.8" ry="6.2" fill="#e4e5e7"/><ellipse cx="820" cy="249" rx="5.984000000000001" ry="4.0920000000000005" fill="#c3c5c8"/><ellipse cx="820" cy="250.6" rx="5.456" ry="3.1" fill="#fbfbfb"/>
<path d="M852.2,242 v3.2 a8.8,6.2 0 0 0 17.6,0 v-3.2 z" fill="#b7b9bc"/><ellipse cx="861" cy="242" rx="8.8" ry="6.2" fill="#e4e5e7"/><ellipse cx="861" cy="242" rx="5.984000000000001" ry="4.0920000000000005" fill="#c3c5c8"/><ellipse cx="861" cy="243.6" rx="5.456" ry="3.1" fill="#fbfbfb"/>
<path d="M818.7,321.5 v3.2 a8.8,6.2 0 0 0 17.6,0 v-3.2 z" fill="#b7b9bc"/><ellipse cx="827.5" cy="321.5" rx="8.8" ry="6.2" fill="#e4e5e7"/><ellipse cx="827.5" cy="321.5" rx="5.984000000000001" ry="4.0920000000000005" fill="#c3c5c8"/><ellipse cx="827.5" cy="323.1" rx="5.456" ry="3.1" fill="#fbfbfb"/>
<path d="M1026.2,361.5 v3.2 a8.8,6.2 0 0 0 17.6,0 v-3.2 z" fill="#b7b9bc"/><ellipse cx="1035" cy="361.5" rx="8.8" ry="6.2" fill="#e4e5e7"/><ellipse cx="1035" cy="361.5" rx="5.984000000000001" ry="4.0920000000000005" fill="#c3c5c8"/><ellipse cx="1035" cy="363.1" rx="5.456" ry="3.1" fill="#fbfbfb"/>
<path d="M927.45,419 v3.2 a8.8,6.2 0 0 0 17.6,0 v-3.2 z" fill="#b7b9bc"/><ellipse cx="936.25" cy="419" rx="8.8" ry="6.2" fill="#e4e5e7"/><ellipse cx="936.25" cy="419" rx="5.984000000000001" ry="4.0920000000000005" fill="#c3c5c8"/><ellipse cx="936.25" cy="420.6" rx="5.456" ry="3.1" fill="#fbfbfb"/>
<path d="M295.5,265 v2.4 a6.5,4.6 0 0 0 13.0,0 v-2.4 z" fill="#b7b9bc"/><ellipse cx="302" cy="265" rx="6.5" ry="4.6" fill="#e4e5e7"/><ellipse cx="302" cy="265" rx="4.42" ry="3.036" fill="#c3c5c8"/><ellipse cx="302" cy="266.6" rx="4.03" ry="2.3" fill="#fbfbfb"/>
<g transform="translate(193.8,265.0) scale(1.0)"><rect x="-6" y="-6.2" width="12" height="12.4" fill="#fff" stroke="#e4e4e4" stroke-width="0.5"/><circle cx="-2.6" cy="-3" r="1" fill="#111"/><path d="M-3.6,-1.6 h2 l-0.3,5.6 h-1.4 z" fill="#111"/><circle cx="2.7" cy="-3.2" r="0.9" fill="#111"/><ellipse cx="2.7" cy="0.6" rx="1.25" ry="3.4" fill="#111"/></g>
<g transform="translate(167.0,288.0) scale(1.0)"><rect x="-6" y="-6.2" width="12" height="12.4" fill="#fff" stroke="#e4e4e4" stroke-width="0.5"/><circle cx="-2.6" cy="-3" r="1" fill="#111"/><path d="M-3.6,-1.6 h2 l-0.3,5.6 h-1.4 z" fill="#111"/><circle cx="2.7" cy="-3.2" r="0.9" fill="#111"/><ellipse cx="2.7" cy="0.6" rx="1.25" ry="3.4" fill="#111"/></g>
<g transform="translate(173.8,313.0) scale(1.0)"><rect x="-6" y="-6.2" width="12" height="12.4" fill="#fff" stroke="#e4e4e4" stroke-width="0.5"/><circle cx="-2.6" cy="-3" r="1" fill="#111"/><path d="M-3.6,-1.6 h2 l-0.3,5.6 h-1.4 z" fill="#111"/><circle cx="2.7" cy="-3.2" r="0.9" fill="#111"/><ellipse cx="2.7" cy="0.6" rx="1.25" ry="3.4" fill="#111"/></g>
<g transform="translate(204.5,290.0) scale(1.0)"><rect x="-6" y="-6.2" width="12" height="12.4" fill="#fff" stroke="#e4e4e4" stroke-width="0.5"/><circle cx="-2.6" cy="-3" r="1" fill="#111"/><path d="M-3.6,-1.6 h2 l-0.3,5.6 h-1.4 z" fill="#111"/><circle cx="2.7" cy="-3.2" r="0.9" fill="#111"/><ellipse cx="2.7" cy="0.6" rx="1.25" ry="3.4" fill="#111"/></g>
<g transform="translate(228.0,273.0) scale(1.0)"><rect x="-6" y="-6.2" width="12" height="12.4" fill="#fff" stroke="#e4e4e4" stroke-width="0.5"/><circle cx="-2.6" cy="-3" r="1" fill="#111"/><path d="M-3.6,-1.6 h2 l-0.3,5.6 h-1.4 z" fill="#111"/><circle cx="2.7" cy="-3.2" r="0.9" fill="#111"/><ellipse cx="2.7" cy="0.6" rx="1.25" ry="3.4" fill="#111"/></g>
<g transform="translate(231.2,247.0) scale(1.0)"><rect x="-6" y="-6.2" width="12" height="12.4" fill="#fff" stroke="#e4e4e4" stroke-width="0.5"/><circle cx="-2.6" cy="-3" r="1" fill="#111"/><path d="M-3.6,-1.6 h2 l-0.3,5.6 h-1.4 z" fill="#111"/><circle cx="2.7" cy="-3.2" r="0.9" fill="#111"/><ellipse cx="2.7" cy="0.6" rx="1.25" ry="3.4" fill="#111"/></g>
<g transform="translate(270.8,233.2) scale(1.0)"><rect x="-6" y="-6.2" width="12" height="12.4" fill="#fff" stroke="#e4e4e4" stroke-width="0.5"/><circle cx="-2.6" cy="-3" r="1" fill="#111"/><path d="M-3.6,-1.6 h2 l-0.3,5.6 h-1.4 z" fill="#111"/><circle cx="2.7" cy="-3.2" r="0.9" fill="#111"/><ellipse cx="2.7" cy="0.6" rx="1.25" ry="3.4" fill="#111"/></g>
<g transform="translate(269.5,262.5) scale(1.0)"><rect x="-6" y="-6.2" width="12" height="12.4" fill="#fff" stroke="#e4e4e4" stroke-width="0.5"/><circle cx="-2.6" cy="-3" r="1" fill="#111"/><path d="M-3.6,-1.6 h2 l-0.3,5.6 h-1.4 z" fill="#111"/><circle cx="2.7" cy="-3.2" r="0.9" fill="#111"/><ellipse cx="2.7" cy="0.6" rx="1.25" ry="3.4" fill="#111"/></g>
<g transform="translate(310.0,322.0) scale(1.0)"><rect x="-6" y="-6.2" width="12" height="12.4" fill="#fff" stroke="#e4e4e4" stroke-width="0.5"/><circle cx="-2.6" cy="-3" r="1" fill="#111"/><path d="M-3.6,-1.6 h2 l-0.3,5.6 h-1.4 z" fill="#111"/><circle cx="2.7" cy="-3.2" r="0.9" fill="#111"/><ellipse cx="2.7" cy="0.6" rx="1.25" ry="3.4" fill="#111"/></g>
<g transform="translate(341.3,219.8) scale(1.0)"><rect x="-6" y="-6.2" width="12" height="12.4" fill="#fff" stroke="#e4e4e4" stroke-width="0.5"/><circle cx="-2.6" cy="-3" r="1" fill="#111"/><path d="M-3.6,-1.6 h2 l-0.3,5.6 h-1.4 z" fill="#111"/><circle cx="2.7" cy="-3.2" r="0.9" fill="#111"/><ellipse cx="2.7" cy="0.6" rx="1.25" ry="3.4" fill="#111"/></g>
<g transform="translate(382.4,212.9) scale(1.0)"><rect x="-6" y="-6.2" width="12" height="12.4" fill="#fff" stroke="#e4e4e4" stroke-width="0.5"/><circle cx="-2.6" cy="-3" r="1" fill="#111"/><path d="M-3.6,-1.6 h2 l-0.3,5.6 h-1.4 z" fill="#111"/><circle cx="2.7" cy="-3.2" r="0.9" fill="#111"/><ellipse cx="2.7" cy="0.6" rx="1.25" ry="3.4" fill="#111"/></g>
<g transform="translate(421.0,209.1) scale(1.0)"><rect x="-6" y="-6.2" width="12" height="12.4" fill="#fff" stroke="#e4e4e4" stroke-width="0.5"/><circle cx="-2.6" cy="-3" r="1" fill="#111"/><path d="M-3.6,-1.6 h2 l-0.3,5.6 h-1.4 z" fill="#111"/><circle cx="2.7" cy="-3.2" r="0.9" fill="#111"/><ellipse cx="2.7" cy="0.6" rx="1.25" ry="3.4" fill="#111"/></g>
<g transform="translate(476.1,222.9) scale(1.0)"><rect x="-6" y="-6.2" width="12" height="12.4" fill="#fff" stroke="#e4e4e4" stroke-width="0.5"/><circle cx="-2.6" cy="-3" r="1" fill="#111"/><path d="M-3.6,-1.6 h2 l-0.3,5.6 h-1.4 z" fill="#111"/><circle cx="2.7" cy="-3.2" r="0.9" fill="#111"/><ellipse cx="2.7" cy="0.6" rx="1.25" ry="3.4" fill="#111"/></g>
<g transform="translate(359.0,258.9) scale(1.0)"><rect x="-6" y="-6.2" width="12" height="12.4" fill="#fff" stroke="#e4e4e4" stroke-width="0.5"/><circle cx="-2.6" cy="-3" r="1" fill="#111"/><path d="M-3.6,-1.6 h2 l-0.3,5.6 h-1.4 z" fill="#111"/><circle cx="2.7" cy="-3.2" r="0.9" fill="#111"/><ellipse cx="2.7" cy="0.6" rx="1.25" ry="3.4" fill="#111"/></g>
<g transform="translate(391.1,255.8) scale(1.0)"><rect x="-6" y="-6.2" width="12" height="12.4" fill="#fff" stroke="#e4e4e4" stroke-width="0.5"/><circle cx="-2.6" cy="-3" r="1" fill="#111"/><path d="M-3.6,-1.6 h2 l-0.3,5.6 h-1.4 z" fill="#111"/><circle cx="2.7" cy="-3.2" r="0.9" fill="#111"/><ellipse cx="2.7" cy="0.6" rx="1.25" ry="3.4" fill="#111"/></g>
<g transform="translate(443.2,249.7) scale(1.0)"><rect x="-6" y="-6.2" width="12" height="12.4" fill="#fff" stroke="#e4e4e4" stroke-width="0.5"/><circle cx="-2.6" cy="-3" r="1" fill="#111"/><path d="M-3.6,-1.6 h2 l-0.3,5.6 h-1.4 z" fill="#111"/><circle cx="2.7" cy="-3.2" r="0.9" fill="#111"/><ellipse cx="2.7" cy="0.6" rx="1.25" ry="3.4" fill="#111"/></g>
<g transform="translate(572.5,224.4) scale(1.0)"><rect x="-6" y="-6.2" width="12" height="12.4" fill="#fff" stroke="#e4e4e4" stroke-width="0.5"/><circle cx="-2.6" cy="-3" r="1" fill="#111"/><path d="M-3.6,-1.6 h2 l-0.3,5.6 h-1.4 z" fill="#111"/><circle cx="2.7" cy="-3.2" r="0.9" fill="#111"/><ellipse cx="2.7" cy="0.6" rx="1.25" ry="3.4" fill="#111"/></g>
<g transform="translate(606.8,210.7) scale(1.0)"><rect x="-6" y="-6.2" width="12" height="12.4" fill="#fff" stroke="#e4e4e4" stroke-width="0.5"/><circle cx="-2.6" cy="-3" r="1" fill="#111"/><path d="M-3.6,-1.6 h2 l-0.3,5.6 h-1.4 z" fill="#111"/><circle cx="2.7" cy="-3.2" r="0.9" fill="#111"/><ellipse cx="2.7" cy="0.6" rx="1.25" ry="3.4" fill="#111"/></g>
<g transform="translate(684.0,225.4) scale(1.0)"><rect x="-6" y="-6.2" width="12" height="12.4" fill="#fff" stroke="#e4e4e4" stroke-width="0.5"/><circle cx="-2.6" cy="-3" r="1" fill="#111"/><path d="M-3.6,-1.6 h2 l-0.3,5.6 h-1.4 z" fill="#111"/><circle cx="2.7" cy="-3.2" r="0.9" fill="#111"/><ellipse cx="2.7" cy="0.6" rx="1.25" ry="3.4" fill="#111"/></g>
<g transform="translate(666.6,241.0) scale(1.0)"><rect x="-6" y="-6.2" width="12" height="12.4" fill="#fff" stroke="#e4e4e4" stroke-width="0.5"/><circle cx="-2.6" cy="-3" r="1" fill="#111"/><path d="M-3.6,-1.6 h2 l-0.3,5.6 h-1.4 z" fill="#111"/><circle cx="2.7" cy="-3.2" r="0.9" fill="#111"/><ellipse cx="2.7" cy="0.6" rx="1.25" ry="3.4" fill="#111"/></g>
<g transform="translate(650.0,247.4) scale(1.0)"><rect x="-6" y="-6.2" width="12" height="12.4" fill="#fff" stroke="#e4e4e4" stroke-width="0.5"/><circle cx="-2.6" cy="-3" r="1" fill="#111"/><path d="M-3.6,-1.6 h2 l-0.3,5.6 h-1.4 z" fill="#111"/><circle cx="2.7" cy="-3.2" r="0.9" fill="#111"/><ellipse cx="2.7" cy="0.6" rx="1.25" ry="3.4" fill="#111"/></g>
<g transform="translate(615.1,263.1) scale(1.0)"><rect x="-6" y="-6.2" width="12" height="12.4" fill="#fff" stroke="#e4e4e4" stroke-width="0.5"/><circle cx="-2.6" cy="-3" r="1" fill="#111"/><path d="M-3.6,-1.6 h2 l-0.3,5.6 h-1.4 z" fill="#111"/><circle cx="2.7" cy="-3.2" r="0.9" fill="#111"/><ellipse cx="2.7" cy="0.6" rx="1.25" ry="3.4" fill="#111"/></g>
<g transform="translate(585.3,263.1) scale(1.0)"><rect x="-6" y="-6.2" width="12" height="12.4" fill="#fff" stroke="#e4e4e4" stroke-width="0.5"/><circle cx="-2.6" cy="-3" r="1" fill="#111"/><path d="M-3.6,-1.6 h2 l-0.3,5.6 h-1.4 z" fill="#111"/><circle cx="2.7" cy="-3.2" r="0.9" fill="#111"/><ellipse cx="2.7" cy="0.6" rx="1.25" ry="3.4" fill="#111"/></g>
<g transform="translate(548.9,263.1) scale(1.0)"><rect x="-6" y="-6.2" width="12" height="12.4" fill="#fff" stroke="#e4e4e4" stroke-width="0.5"/><circle cx="-2.6" cy="-3" r="1" fill="#111"/><path d="M-3.6,-1.6 h2 l-0.3,5.6 h-1.4 z" fill="#111"/><circle cx="2.7" cy="-3.2" r="0.9" fill="#111"/><ellipse cx="2.7" cy="0.6" rx="1.25" ry="3.4" fill="#111"/></g>
<g transform="translate(691.5,182.8) scale(1.0)"><rect x="-6" y="-6.2" width="12" height="12.4" fill="#fff" stroke="#e4e4e4" stroke-width="0.5"/><circle cx="-2.6" cy="-3" r="1" fill="#111"/><path d="M-3.6,-1.6 h2 l-0.3,5.6 h-1.4 z" fill="#111"/><circle cx="2.7" cy="-3.2" r="0.9" fill="#111"/><ellipse cx="2.7" cy="0.6" rx="1.25" ry="3.4" fill="#111"/></g>
<g transform="translate(732.1,182.3) scale(1.0)"><rect x="-6" y="-6.2" width="12" height="12.4" fill="#fff" stroke="#e4e4e4" stroke-width="0.5"/><circle cx="-2.6" cy="-3" r="1" fill="#111"/><path d="M-3.6,-1.6 h2 l-0.3,5.6 h-1.4 z" fill="#111"/><circle cx="2.7" cy="-3.2" r="0.9" fill="#111"/><ellipse cx="2.7" cy="0.6" rx="1.25" ry="3.4" fill="#111"/></g>
<g transform="translate(771.6,174.9) scale(1.0)"><rect x="-6" y="-6.2" width="12" height="12.4" fill="#fff" stroke="#e4e4e4" stroke-width="0.5"/><circle cx="-2.6" cy="-3" r="1" fill="#111"/><path d="M-3.6,-1.6 h2 l-0.3,5.6 h-1.4 z" fill="#111"/><circle cx="2.7" cy="-3.2" r="0.9" fill="#111"/><ellipse cx="2.7" cy="0.6" rx="1.25" ry="3.4" fill="#111"/></g>
<g transform="translate(812.6,174.9) scale(1.0)"><rect x="-6" y="-6.2" width="12" height="12.4" fill="#fff" stroke="#e4e4e4" stroke-width="0.5"/><circle cx="-2.6" cy="-3" r="1" fill="#111"/><path d="M-3.6,-1.6 h2 l-0.3,5.6 h-1.4 z" fill="#111"/><circle cx="2.7" cy="-3.2" r="0.9" fill="#111"/><ellipse cx="2.7" cy="0.6" rx="1.25" ry="3.4" fill="#111"/></g>
<g transform="translate(762.4,211.7) scale(1.0)"><rect x="-6" y="-6.2" width="12" height="12.4" fill="#fff" stroke="#e4e4e4" stroke-width="0.5"/><circle cx="-2.6" cy="-3" r="1" fill="#111"/><path d="M-3.6,-1.6 h2 l-0.3,5.6 h-1.4 z" fill="#111"/><circle cx="2.7" cy="-3.2" r="0.9" fill="#111"/><ellipse cx="2.7" cy="0.6" rx="1.25" ry="3.4" fill="#111"/></g>
<g transform="translate(796.4,213.0) scale(1.0)"><rect x="-6" y="-6.2" width="12" height="12.4" fill="#fff" stroke="#e4e4e4" stroke-width="0.5"/><circle cx="-2.6" cy="-3" r="1" fill="#111"/><path d="M-3.6,-1.6 h2 l-0.3,5.6 h-1.4 z" fill="#111"/><circle cx="2.7" cy="-3.2" r="0.9" fill="#111"/><ellipse cx="2.7" cy="0.6" rx="1.25" ry="3.4" fill="#111"/></g>
<g transform="translate(824.7,218.9) scale(1.0)"><rect x="-6" y="-6.2" width="12" height="12.4" fill="#fff" stroke="#e4e4e4" stroke-width="0.5"/><circle cx="-2.6" cy="-3" r="1" fill="#111"/><path d="M-3.6,-1.6 h2 l-0.3,5.6 h-1.4 z" fill="#111"/><circle cx="2.7" cy="-3.2" r="0.9" fill="#111"/><ellipse cx="2.7" cy="0.6" rx="1.25" ry="3.4" fill="#111"/></g>
<g transform="translate(915.5,280.0) scale(1.0)"><rect x="-6" y="-6.2" width="12" height="12.4" fill="#fff" stroke="#e4e4e4" stroke-width="0.5"/><circle cx="-2.6" cy="-3" r="1" fill="#111"/><path d="M-3.6,-1.6 h2 l-0.3,5.6 h-1.4 z" fill="#111"/><circle cx="2.7" cy="-3.2" r="0.9" fill="#111"/><ellipse cx="2.7" cy="0.6" rx="1.25" ry="3.4" fill="#111"/></g>
<g transform="translate(890.0,291.2) scale(1.0)"><rect x="-6" y="-6.2" width="12" height="12.4" fill="#fff" stroke="#e4e4e4" stroke-width="0.5"/><circle cx="-2.6" cy="-3" r="1" fill="#111"/><path d="M-3.6,-1.6 h2 l-0.3,5.6 h-1.4 z" fill="#111"/><circle cx="2.7" cy="-3.2" r="0.9" fill="#111"/><ellipse cx="2.7" cy="0.6" rx="1.25" ry="3.4" fill="#111"/></g>
<g transform="translate(864.2,309.4) scale(1.0)"><rect x="-6" y="-6.2" width="12" height="12.4" fill="#fff" stroke="#e4e4e4" stroke-width="0.5"/><circle cx="-2.6" cy="-3" r="1" fill="#111"/><path d="M-3.6,-1.6 h2 l-0.3,5.6 h-1.4 z" fill="#111"/><circle cx="2.7" cy="-3.2" r="0.9" fill="#111"/><ellipse cx="2.7" cy="0.6" rx="1.25" ry="3.4" fill="#111"/></g>
<g transform="translate(937.5,311.8) scale(1.0)"><rect x="-6" y="-6.2" width="12" height="12.4" fill="#fff" stroke="#e4e4e4" stroke-width="0.5"/><circle cx="-2.6" cy="-3" r="1" fill="#111"/><path d="M-3.6,-1.6 h2 l-0.3,5.6 h-1.4 z" fill="#111"/><circle cx="2.7" cy="-3.2" r="0.9" fill="#111"/><ellipse cx="2.7" cy="0.6" rx="1.25" ry="3.4" fill="#111"/></g>
<g transform="translate(956.2,327.0) scale(1.0)"><rect x="-6" y="-6.2" width="12" height="12.4" fill="#fff" stroke="#e4e4e4" stroke-width="0.5"/><circle cx="-2.6" cy="-3" r="1" fill="#111"/><path d="M-3.6,-1.6 h2 l-0.3,5.6 h-1.4 z" fill="#111"/><circle cx="2.7" cy="-3.2" r="0.9" fill="#111"/><ellipse cx="2.7" cy="0.6" rx="1.25" ry="3.4" fill="#111"/></g>
<g transform="translate(1003.8,338.8) scale(1.0)"><rect x="-6" y="-6.2" width="12" height="12.4" fill="#fff" stroke="#e4e4e4" stroke-width="0.5"/><circle cx="-2.6" cy="-3" r="1" fill="#111"/><path d="M-3.6,-1.6 h2 l-0.3,5.6 h-1.4 z" fill="#111"/><circle cx="2.7" cy="-3.2" r="0.9" fill="#111"/><ellipse cx="2.7" cy="0.6" rx="1.25" ry="3.4" fill="#111"/></g>
<g transform="translate(977.5,346.2) scale(1.0)"><rect x="-6" y="-6.2" width="12" height="12.4" fill="#fff" stroke="#e4e4e4" stroke-width="0.5"/><circle cx="-2.6" cy="-3" r="1" fill="#111"/><path d="M-3.6,-1.6 h2 l-0.3,5.6 h-1.4 z" fill="#111"/><circle cx="2.7" cy="-3.2" r="0.9" fill="#111"/><ellipse cx="2.7" cy="0.6" rx="1.25" ry="3.4" fill="#111"/></g>
<g transform="translate(881.2,360.8) scale(1.0)"><rect x="-6" y="-6.2" width="12" height="12.4" fill="#fff" stroke="#e4e4e4" stroke-width="0.5"/><circle cx="-2.6" cy="-3" r="1" fill="#111"/><path d="M-3.6,-1.6 h2 l-0.3,5.6 h-1.4 z" fill="#111"/><circle cx="2.7" cy="-3.2" r="0.9" fill="#111"/><ellipse cx="2.7" cy="0.6" rx="1.25" ry="3.4" fill="#111"/></g>
<g transform="translate(900.0,360.0) scale(1.0)"><rect x="-6" y="-6.2" width="12" height="12.4" fill="#fff" stroke="#e4e4e4" stroke-width="0.5"/><circle cx="-2.6" cy="-3" r="1" fill="#111"/><path d="M-3.6,-1.6 h2 l-0.3,5.6 h-1.4 z" fill="#111"/><circle cx="2.7" cy="-3.2" r="0.9" fill="#111"/><ellipse cx="2.7" cy="0.6" rx="1.25" ry="3.4" fill="#111"/></g>
<g transform="translate(852.5,385.0) scale(1.0)"><rect x="-6" y="-6.2" width="12" height="12.4" fill="#fff" stroke="#e4e4e4" stroke-width="0.5"/><circle cx="-2.6" cy="-3" r="1" fill="#111"/><path d="M-3.6,-1.6 h2 l-0.3,5.6 h-1.4 z" fill="#111"/><circle cx="2.7" cy="-3.2" r="0.9" fill="#111"/><ellipse cx="2.7" cy="0.6" rx="1.25" ry="3.4" fill="#111"/></g>
<g transform="translate(923.2,378.8) scale(1.0)"><rect x="-6" y="-6.2" width="12" height="12.4" fill="#fff" stroke="#e4e4e4" stroke-width="0.5"/><circle cx="-2.6" cy="-3" r="1" fill="#111"/><path d="M-3.6,-1.6 h2 l-0.3,5.6 h-1.4 z" fill="#111"/><circle cx="2.7" cy="-3.2" r="0.9" fill="#111"/><ellipse cx="2.7" cy="0.6" rx="1.25" ry="3.4" fill="#111"/></g>
<g transform="translate(946.8,378.2) scale(1.0)"><rect x="-6" y="-6.2" width="12" height="12.4" fill="#fff" stroke="#e4e4e4" stroke-width="0.5"/><circle cx="-2.6" cy="-3" r="1" fill="#111"/><path d="M-3.6,-1.6 h2 l-0.3,5.6 h-1.4 z" fill="#111"/><circle cx="2.7" cy="-3.2" r="0.9" fill="#111"/><ellipse cx="2.7" cy="0.6" rx="1.25" ry="3.4" fill="#111"/></g>
<g transform="translate(920.0,402.0) scale(1.0)"><rect x="-6" y="-6.2" width="12" height="12.4" fill="#fff" stroke="#e4e4e4" stroke-width="0.5"/><circle cx="-2.6" cy="-3" r="1" fill="#111"/><path d="M-3.6,-1.6 h2 l-0.3,5.6 h-1.4 z" fill="#111"/><circle cx="2.7" cy="-3.2" r="0.9" fill="#111"/><ellipse cx="2.7" cy="0.6" rx="1.25" ry="3.4" fill="#111"/></g>
<g transform="translate(1073.2,410.0) scale(1.0)"><rect x="-6" y="-6.2" width="12" height="12.4" fill="#fff" stroke="#e4e4e4" stroke-width="0.5"/><circle cx="-2.6" cy="-3" r="1" fill="#111"/><path d="M-3.6,-1.6 h2 l-0.3,5.6 h-1.4 z" fill="#111"/><circle cx="2.7" cy="-3.2" r="0.9" fill="#111"/><ellipse cx="2.7" cy="0.6" rx="1.25" ry="3.4" fill="#111"/></g>
<g transform="translate(1101.2,413.2) scale(1.0)"><rect x="-6" y="-6.2" width="12" height="12.4" fill="#fff" stroke="#e4e4e4" stroke-width="0.5"/><circle cx="-2.6" cy="-3" r="1" fill="#111"/><path d="M-3.6,-1.6 h2 l-0.3,5.6 h-1.4 z" fill="#111"/><circle cx="2.7" cy="-3.2" r="0.9" fill="#111"/><ellipse cx="2.7" cy="0.6" rx="1.25" ry="3.4" fill="#111"/></g>
<g transform="translate(1048.8,433.1) scale(1.0)"><rect x="-6" y="-6.2" width="12" height="12.4" fill="#fff" stroke="#e4e4e4" stroke-width="0.5"/><circle cx="-2.6" cy="-3" r="1" fill="#111"/><path d="M-3.6,-1.6 h2 l-0.3,5.6 h-1.4 z" fill="#111"/><circle cx="2.7" cy="-3.2" r="0.9" fill="#111"/><ellipse cx="2.7" cy="0.6" rx="1.25" ry="3.4" fill="#111"/></g>
<g transform="translate(1083.5,429.5) scale(1.0)"><rect x="-6" y="-6.2" width="12" height="12.4" fill="#fff" stroke="#e4e4e4" stroke-width="0.5"/><circle cx="-2.6" cy="-3" r="1" fill="#111"/><path d="M-3.6,-1.6 h2 l-0.3,5.6 h-1.4 z" fill="#111"/><circle cx="2.7" cy="-3.2" r="0.9" fill="#111"/><ellipse cx="2.7" cy="0.6" rx="1.25" ry="3.4" fill="#111"/></g>
<g transform="translate(1002.2,443.0) scale(1.0)"><rect x="-6" y="-6.2" width="12" height="12.4" fill="#fff" stroke="#e4e4e4" stroke-width="0.5"/><circle cx="-2.6" cy="-3" r="1" fill="#111"/><path d="M-3.6,-1.6 h2 l-0.3,5.6 h-1.4 z" fill="#111"/><circle cx="2.7" cy="-3.2" r="0.9" fill="#111"/><ellipse cx="2.7" cy="0.6" rx="1.25" ry="3.4" fill="#111"/></g>
<g transform="translate(990.8,451.2) scale(1.0)"><rect x="-6" y="-6.2" width="12" height="12.4" fill="#fff" stroke="#e4e4e4" stroke-width="0.5"/><circle cx="-2.6" cy="-3" r="1" fill="#111"/><path d="M-3.6,-1.6 h2 l-0.3,5.6 h-1.4 z" fill="#111"/><circle cx="2.7" cy="-3.2" r="0.9" fill="#111"/><ellipse cx="2.7" cy="0.6" rx="1.25" ry="3.4" fill="#111"/></g>
<g transform="translate(1054.0,455.2) scale(1.0)"><rect x="-6" y="-6.2" width="12" height="12.4" fill="#fff" stroke="#e4e4e4" stroke-width="0.5"/><circle cx="-2.6" cy="-3" r="1" fill="#111"/><path d="M-3.6,-1.6 h2 l-0.3,5.6 h-1.4 z" fill="#111"/><circle cx="2.7" cy="-3.2" r="0.9" fill="#111"/><ellipse cx="2.7" cy="0.6" rx="1.25" ry="3.4" fill="#111"/></g>
<g transform="translate(1027.5,474.5) scale(1.0)"><rect x="-6" y="-6.2" width="12" height="12.4" fill="#fff" stroke="#e4e4e4" stroke-width="0.5"/><circle cx="-2.6" cy="-3" r="1" fill="#111"/><path d="M-3.6,-1.6 h2 l-0.3,5.6 h-1.4 z" fill="#111"/><circle cx="2.7" cy="-3.2" r="0.9" fill="#111"/><ellipse cx="2.7" cy="0.6" rx="1.25" ry="3.4" fill="#111"/></g>
<g transform="translate(1003.8,489.2) scale(1.0)"><rect x="-6" y="-6.2" width="12" height="12.4" fill="#fff" stroke="#e4e4e4" stroke-width="0.5"/><circle cx="-2.6" cy="-3" r="1" fill="#111"/><path d="M-3.6,-1.6 h2 l-0.3,5.6 h-1.4 z" fill="#111"/><circle cx="2.7" cy="-3.2" r="0.9" fill="#111"/><ellipse cx="2.7" cy="0.6" rx="1.25" ry="3.4" fill="#111"/></g>
<circle cx="180.5" cy="266.2" r="4.15" fill="#1a6cbc" stroke="#0f4c96" stroke-width="0.7"/><text x="180.5" y="268.1" font-size="5.2" font-weight="bold" fill="#fff" text-anchor="middle">9</text>
<circle cx="148.8" cy="290.5" r="4.15" fill="#1a6cbc" stroke="#0f4c96" stroke-width="0.7"/><text x="148.8" y="292.4" font-size="5.2" font-weight="bold" fill="#fff" text-anchor="middle">5</text>
<circle cx="119.5" cy="318.0" r="4.15" fill="#1a6cbc" stroke="#0f4c96" stroke-width="0.7"/><text x="119.5" y="319.9" font-size="5.2" font-weight="bold" fill="#fff" text-anchor="middle">1</text>
<circle cx="186.2" cy="311.8" r="4.15" fill="#1a6cbc" stroke="#0f4c96" stroke-width="0.7"/><text x="186.2" y="313.6" font-size="5.2" font-weight="bold" fill="#fff" text-anchor="middle">6</text>
<circle cx="217.0" cy="289.2" r="4.15" fill="#1a6cbc" stroke="#0f4c96" stroke-width="0.7"/><text x="217.0" y="291.1" font-size="5.2" font-weight="bold" fill="#fff" text-anchor="middle">10</text>
<circle cx="241.8" cy="271.8" r="4.15" fill="#1a6cbc" stroke="#0f4c96" stroke-width="0.7"/><text x="241.8" y="273.6" font-size="5.2" font-weight="bold" fill="#fff" text-anchor="middle">14</text>
<circle cx="220.0" cy="247.0" r="4.15" fill="#1a6cbc" stroke="#0f4c96" stroke-width="0.7"/><text x="220.0" y="248.9" font-size="5.2" font-weight="bold" fill="#fff" text-anchor="middle">13</text>
<circle cx="262.5" cy="231.2" r="4.15" fill="#1a6cbc" stroke="#0f4c96" stroke-width="0.7"/><text x="262.5" y="233.1" font-size="5.2" font-weight="bold" fill="#fff" text-anchor="middle">17</text>
<circle cx="277.5" cy="260.0" r="4.15" fill="#1a6cbc" stroke="#0f4c96" stroke-width="0.7"/><text x="277.5" y="261.9" font-size="5.2" font-weight="bold" fill="#fff" text-anchor="middle">18</text>
<circle cx="158.2" cy="339.2" r="4.15" fill="#1a6cbc" stroke="#0f4c96" stroke-width="0.7"/><text x="158.2" y="341.1" font-size="5.2" font-weight="bold" fill="#fff" text-anchor="middle">2</text>
<circle cx="354.4" cy="214.0" r="4.15" fill="#1a6cbc" stroke="#0f4c96" stroke-width="0.7"/><text x="354.4" y="215.9" font-size="5.2" font-weight="bold" fill="#fff" text-anchor="middle">21</text>
<circle cx="393.4" cy="210.6" r="4.15" fill="#1a6cbc" stroke="#0f4c96" stroke-width="0.7"/><text x="393.4" y="212.5" font-size="5.2" font-weight="bold" fill="#fff" text-anchor="middle">25</text>
<circle cx="434.0" cy="210.6" r="4.15" fill="#1a6cbc" stroke="#0f4c96" stroke-width="0.7"/><text x="434.0" y="212.5" font-size="5.2" font-weight="bold" fill="#fff" text-anchor="middle">29</text>
<circle cx="371.7" cy="258.9" r="4.15" fill="#1a6cbc" stroke="#0f4c96" stroke-width="0.7"/><text x="371.7" y="260.8" font-size="5.2" font-weight="bold" fill="#fff" text-anchor="middle">22</text>
<circle cx="402.6" cy="255.8" r="4.15" fill="#1a6cbc" stroke="#0f4c96" stroke-width="0.7"/><text x="402.6" y="257.7" font-size="5.2" font-weight="bold" fill="#fff" text-anchor="middle">26</text>
<circle cx="433.2" cy="257.3" r="4.15" fill="#1a6cbc" stroke="#0f4c96" stroke-width="0.7"/><text x="433.2" y="259.2" font-size="5.2" font-weight="bold" fill="#fff" text-anchor="middle">30</text>
<circle cx="554.1" cy="220.4" r="4.15" fill="#1a6cbc" stroke="#0f4c96" stroke-width="0.7"/><text x="554.1" y="222.3" font-size="5.2" font-weight="bold" fill="#fff" text-anchor="middle">37</text>
<circle cx="586.3" cy="216.2" r="4.15" fill="#1a6cbc" stroke="#0f4c96" stroke-width="0.7"/><text x="586.3" y="218.1" font-size="5.2" font-weight="bold" fill="#fff" text-anchor="middle">41</text>
<circle cx="618.8" cy="209.2" r="4.15" fill="#1a6cbc" stroke="#0f4c96" stroke-width="0.7"/><text x="618.8" y="211.1" font-size="5.2" font-weight="bold" fill="#fff" text-anchor="middle">45</text>
<circle cx="639.0" cy="253.3" r="4.15" fill="#1a6cbc" stroke="#0f4c96" stroke-width="0.7"/><text x="639.0" y="255.2" font-size="5.2" font-weight="bold" fill="#fff" text-anchor="middle">46</text>
<circle cx="604.3" cy="258.4" r="4.15" fill="#1a6cbc" stroke="#0f4c96" stroke-width="0.7"/><text x="604.3" y="260.3" font-size="5.2" font-weight="bold" fill="#fff" text-anchor="middle">42</text>
<circle cx="562.4" cy="267.1" r="4.15" fill="#1a6cbc" stroke="#0f4c96" stroke-width="0.7"/><text x="562.4" y="269.0" font-size="5.2" font-weight="bold" fill="#fff" text-anchor="middle">38</text>
<circle cx="702.5" cy="178.9" r="4.15" fill="#1a6cbc" stroke="#0f4c96" stroke-width="0.7"/><text x="702.5" y="180.8" font-size="5.2" font-weight="bold" fill="#fff" text-anchor="middle">51</text>
<circle cx="743.1" cy="174.4" r="4.15" fill="#1a6cbc" stroke="#0f4c96" stroke-width="0.7"/><text x="743.1" y="176.3" font-size="5.2" font-weight="bold" fill="#fff" text-anchor="middle">55</text>
<circle cx="783.7" cy="174.4" r="4.15" fill="#1a6cbc" stroke="#0f4c96" stroke-width="0.7"/><text x="783.7" y="176.3" font-size="5.2" font-weight="bold" fill="#fff" text-anchor="middle">59</text>
<circle cx="824.2" cy="176.8" r="4.15" fill="#1a6cbc" stroke="#0f4c96" stroke-width="0.7"/><text x="824.2" y="178.7" font-size="5.2" font-weight="bold" fill="#fff" text-anchor="middle">63</text>
<circle cx="865.9" cy="188.7" r="4.15" fill="#1a6cbc" stroke="#0f4c96" stroke-width="0.7"/><text x="865.9" y="190.6" font-size="5.2" font-weight="bold" fill="#fff" text-anchor="middle">67</text>
<circle cx="722.5" cy="217.2" r="4.15" fill="#1a6cbc" stroke="#0f4c96" stroke-width="0.7"/><text x="722.5" y="219.1" font-size="5.2" font-weight="bold" fill="#fff" text-anchor="middle">52</text>
<circle cx="751.4" cy="213.5" r="4.15" fill="#1a6cbc" stroke="#0f4c96" stroke-width="0.7"/><text x="751.4" y="215.4" font-size="5.2" font-weight="bold" fill="#fff" text-anchor="middle">56</text>
<circle cx="783.5" cy="212.2" r="4.15" fill="#1a6cbc" stroke="#0f4c96" stroke-width="0.7"/><text x="783.5" y="214.1" font-size="5.2" font-weight="bold" fill="#fff" text-anchor="middle">60</text>
<circle cx="812.2" cy="216.5" r="4.15" fill="#1a6cbc" stroke="#0f4c96" stroke-width="0.7"/><text x="812.2" y="218.4" font-size="5.2" font-weight="bold" fill="#fff" text-anchor="middle">64</text>
<circle cx="821.6" cy="312.0" r="4.15" fill="#1a6cbc" stroke="#0f4c96" stroke-width="0.7"/><text x="821.6" y="313.9" font-size="5.2" font-weight="bold" fill="#fff" text-anchor="middle">91</text>
<circle cx="849.8" cy="314.0" r="4.15" fill="#1a6cbc" stroke="#0f4c96" stroke-width="0.7"/><text x="849.8" y="315.9" font-size="5.2" font-weight="bold" fill="#fff" text-anchor="middle">87</text>
<circle cx="879.0" cy="301.2" r="4.15" fill="#1a6cbc" stroke="#0f4c96" stroke-width="0.7"/><text x="879.0" y="303.1" font-size="5.2" font-weight="bold" fill="#fff" text-anchor="middle">83</text>
<circle cx="905.5" cy="281.8" r="4.15" fill="#1a6cbc" stroke="#0f4c96" stroke-width="0.7"/><text x="905.5" y="283.6" font-size="5.2" font-weight="bold" fill="#fff" text-anchor="middle">79</text>
<circle cx="937.5" cy="269.2" r="4.15" fill="#1a6cbc" stroke="#0f4c96" stroke-width="0.7"/><text x="937.5" y="271.1" font-size="5.2" font-weight="bold" fill="#fff" text-anchor="middle">75</text>
<circle cx="1015.0" cy="339.5" r="4.15" fill="#1a6cbc" stroke="#0f4c96" stroke-width="0.7"/><text x="1015.0" y="341.4" font-size="5.2" font-weight="bold" fill="#fff" text-anchor="middle">76</text>
<circle cx="985.5" cy="353.0" r="4.15" fill="#1a6cbc" stroke="#0f4c96" stroke-width="0.7"/><text x="985.5" y="354.9" font-size="5.2" font-weight="bold" fill="#fff" text-anchor="middle">80</text>
<circle cx="1040.5" cy="324.2" r="4.15" fill="#1a6cbc" stroke="#0f4c96" stroke-width="0.7"/><text x="1040.5" y="326.1" font-size="5.2" font-weight="bold" fill="#fff" text-anchor="middle">72</text>
<circle cx="958.2" cy="372.5" r="4.15" fill="#1a6cbc" stroke="#0f4c96" stroke-width="0.7"/><text x="958.2" y="374.4" font-size="5.2" font-weight="bold" fill="#fff" text-anchor="middle">84</text>
<circle cx="930.8" cy="388.8" r="4.15" fill="#1a6cbc" stroke="#0f4c96" stroke-width="0.7"/><text x="930.8" y="390.6" font-size="5.2" font-weight="bold" fill="#fff" text-anchor="middle">85</text>
<circle cx="903.0" cy="405.8" r="4.15" fill="#1a6cbc" stroke="#0f4c96" stroke-width="0.7"/><text x="903.0" y="407.6" font-size="5.2" font-weight="bold" fill="#fff" text-anchor="middle">92</text>
<circle cx="1079.2" cy="392.0" r="4.15" fill="#e4172e" stroke="#c10f24" stroke-width="0.7"/><text x="1079.2" y="393.5" font-size="4.2" font-weight="bold" fill="#fff" text-anchor="middle">109</text>
<circle cx="1094.2" cy="370.5" r="4.15" fill="#e4172e" stroke="#c10f24" stroke-width="0.7"/><text x="1094.2" y="372.0" font-size="4.2" font-weight="bold" fill="#fff" text-anchor="middle">113</text>
<circle cx="1060.0" cy="411.8" r="4.15" fill="#e4172e" stroke="#c10f24" stroke-width="0.7"/><text x="1060.0" y="413.3" font-size="4.2" font-weight="bold" fill="#fff" text-anchor="middle">105</text>
<circle cx="1113.7" cy="415.8" r="4.15" fill="#e4172e" stroke="#c10f24" stroke-width="0.7"/><text x="1113.7" y="417.3" font-size="4.2" font-weight="bold" fill="#fff" text-anchor="middle">110</text>
<circle cx="1036.8" cy="430.4" r="4.15" fill="#e4172e" stroke="#c10f24" stroke-width="0.7"/><text x="1036.8" y="431.9" font-size="4.2" font-weight="bold" fill="#fff" text-anchor="middle">101</text>
<circle cx="1094.2" cy="436.5" r="4.15" fill="#e4172e" stroke="#c10f24" stroke-width="0.7"/><text x="1094.2" y="438.0" font-size="4.2" font-weight="bold" fill="#fff" text-anchor="middle">106</text>
<circle cx="1012.5" cy="447.8" r="4.15" fill="#e4172e" stroke="#c10f24" stroke-width="0.7"/><text x="1012.5" y="449.7" font-size="5.2" font-weight="bold" fill="#fff" text-anchor="middle">97</text>
<circle cx="1067.0" cy="455.2" r="4.15" fill="#e4172e" stroke="#c10f24" stroke-width="0.7"/><text x="1067.0" y="456.7" font-size="4.2" font-weight="bold" fill="#fff" text-anchor="middle">102</text>
<circle cx="967.5" cy="459.1" r="4.15" fill="#e4172e" stroke="#c10f24" stroke-width="0.7"/><text x="967.5" y="461.0" font-size="5.2" font-weight="bold" fill="#fff" text-anchor="middle">93</text>
<circle cx="1038.8" cy="478.2" r="4.15" fill="#e4172e" stroke="#c10f24" stroke-width="0.7"/><text x="1038.8" y="480.1" font-size="5.2" font-weight="bold" fill="#fff" text-anchor="middle">98</text>
<circle cx="1001.2" cy="501.2" r="4.15" fill="#e4172e" stroke="#c10f24" stroke-width="0.7"/><text x="1001.2" y="503.1" font-size="5.2" font-weight="bold" fill="#fff" text-anchor="middle">94</text>
<circle cx="1129.8" cy="397.6" r="4.15" fill="#e4172e" stroke="#c10f24" stroke-width="0.7"/><text x="1129.8" y="399.1" font-size="4.2" font-weight="bold" fill="#fff" text-anchor="middle">114</text>
<g transform="translate(122.5,256.2)"><rect x="-6.2" y="-6.2" width="12.4" height="12.4" rx="1.3" fill="#e84a18"/><path d="M-4,-1.8 q0,-1 1,-1 h6 q1,0 1,1 v2.6 h-8 z" fill="#fff"/><circle cx="-2.2" cy="1.6" r="0.9" fill="#fff"/><circle cx="2.2" cy="1.6" r="0.9" fill="#fff"/><rect x="-3.2" y="-2" width="6.4" height="1.3" fill="#e8501c"/></g>
<g transform="translate(317.3,224.5)"><rect x="-6.2" y="-6.2" width="12.4" height="12.4" rx="1.3" fill="#e84a18"/><path d="M-4,-1.8 q0,-1 1,-1 h6 q1,0 1,1 v2.6 h-8 z" fill="#fff"/><circle cx="-2.2" cy="1.6" r="0.9" fill="#fff"/><circle cx="2.2" cy="1.6" r="0.9" fill="#fff"/><rect x="-3.2" y="-2" width="6.4" height="1.3" fill="#e8501c"/></g>
<g transform="translate(256.2,327.5)"><rect x="-6.2" y="-6.2" width="12.4" height="12.4" rx="1.3" fill="#e84a18"/><path d="M-4,-1.8 q0,-1 1,-1 h6 q1,0 1,1 v2.6 h-8 z" fill="#fff"/><circle cx="-2.2" cy="1.6" r="0.9" fill="#fff"/><circle cx="2.2" cy="1.6" r="0.9" fill="#fff"/><rect x="-3.2" y="-2" width="6.4" height="1.3" fill="#e8501c"/></g>
<g transform="translate(474.6,208.3)"><rect x="-6.2" y="-6.2" width="12.4" height="12.4" rx="1.3" fill="#e84a18"/><path d="M-4,-1.8 q0,-1 1,-1 h6 q1,0 1,1 v2.6 h-8 z" fill="#fff"/><circle cx="-2.2" cy="1.6" r="0.9" fill="#fff"/><circle cx="2.2" cy="1.6" r="0.9" fill="#fff"/><rect x="-3.2" y="-2" width="6.4" height="1.3" fill="#e8501c"/></g>
<g transform="translate(560.0,176.7)"><rect x="-6.2" y="-6.2" width="12.4" height="12.4" rx="1.3" fill="#e84a18"/><path d="M-4,-1.8 q0,-1 1,-1 h6 q1,0 1,1 v2.6 h-8 z" fill="#fff"/><circle cx="-2.2" cy="1.6" r="0.9" fill="#fff"/><circle cx="2.2" cy="1.6" r="0.9" fill="#fff"/><rect x="-3.2" y="-2" width="6.4" height="1.3" fill="#e8501c"/></g>
<g transform="translate(644.5,276.8)"><rect x="-6.2" y="-6.2" width="12.4" height="12.4" rx="1.3" fill="#e84a18"/><path d="M-4,-1.8 q0,-1 1,-1 h6 q1,0 1,1 v2.6 h-8 z" fill="#fff"/><circle cx="-2.2" cy="1.6" r="0.9" fill="#fff"/><circle cx="2.2" cy="1.6" r="0.9" fill="#fff"/><rect x="-3.2" y="-2" width="6.4" height="1.3" fill="#e8501c"/></g>
<g transform="translate(575.8,294.2)"><rect x="-6.2" y="-6.2" width="12.4" height="12.4" rx="1.3" fill="#e84a18"/><path d="M-4,-1.8 q0,-1 1,-1 h6 q1,0 1,1 v2.6 h-8 z" fill="#fff"/><circle cx="-2.2" cy="1.6" r="0.9" fill="#fff"/><circle cx="2.2" cy="1.6" r="0.9" fill="#fff"/><rect x="-3.2" y="-2" width="6.4" height="1.3" fill="#e8501c"/></g>
<g transform="translate(720.5,167.5)"><rect x="-6.2" y="-6.2" width="12.4" height="12.4" rx="1.3" fill="#e84a18"/><path d="M-4,-1.8 q0,-1 1,-1 h6 q1,0 1,1 v2.6 h-8 z" fill="#fff"/><circle cx="-2.2" cy="1.6" r="0.9" fill="#fff"/><circle cx="2.2" cy="1.6" r="0.9" fill="#fff"/><rect x="-3.2" y="-2" width="6.4" height="1.3" fill="#e8501c"/></g>
<g transform="translate(742.6,247.5)"><rect x="-6.2" y="-6.2" width="12.4" height="12.4" rx="1.3" fill="#e84a18"/><path d="M-4,-1.8 q0,-1 1,-1 h6 q1,0 1,1 v2.6 h-8 z" fill="#fff"/><circle cx="-2.2" cy="1.6" r="0.9" fill="#fff"/><circle cx="2.2" cy="1.6" r="0.9" fill="#fff"/><rect x="-3.2" y="-2" width="6.4" height="1.3" fill="#e8501c"/></g>
<g transform="translate(799.4,249.6)"><rect x="-6.2" y="-6.2" width="12.4" height="12.4" rx="1.3" fill="#e84a18"/><path d="M-4,-1.8 q0,-1 1,-1 h6 q1,0 1,1 v2.6 h-8 z" fill="#fff"/><circle cx="-2.2" cy="1.6" r="0.9" fill="#fff"/><circle cx="2.2" cy="1.6" r="0.9" fill="#fff"/><rect x="-3.2" y="-2" width="6.4" height="1.3" fill="#e8501c"/></g>
<g transform="translate(858.0,181.4)"><rect x="-6.2" y="-6.2" width="12.4" height="12.4" rx="1.3" fill="#e84a18"/><path d="M-4,-1.8 q0,-1 1,-1 h6 q1,0 1,1 v2.6 h-8 z" fill="#fff"/><circle cx="-2.2" cy="1.6" r="0.9" fill="#fff"/><circle cx="2.2" cy="1.6" r="0.9" fill="#fff"/><rect x="-3.2" y="-2" width="6.4" height="1.3" fill="#e8501c"/></g>
<g transform="translate(1024.2,293.8)"><rect x="-6.2" y="-6.2" width="12.4" height="12.4" rx="1.3" fill="#e84a18"/><path d="M-4,-1.8 q0,-1 1,-1 h6 q1,0 1,1 v2.6 h-8 z" fill="#fff"/><circle cx="-2.2" cy="1.6" r="0.9" fill="#fff"/><circle cx="2.2" cy="1.6" r="0.9" fill="#fff"/><rect x="-3.2" y="-2" width="6.4" height="1.3" fill="#e8501c"/></g>
<g transform="translate(835.0,406.5)"><rect x="-6.2" y="-6.2" width="12.4" height="12.4" rx="1.3" fill="#e84a18"/><path d="M-4,-1.8 q0,-1 1,-1 h6 q1,0 1,1 v2.6 h-8 z" fill="#fff"/><circle cx="-2.2" cy="1.6" r="0.9" fill="#fff"/><circle cx="2.2" cy="1.6" r="0.9" fill="#fff"/><rect x="-3.2" y="-2" width="6.4" height="1.3" fill="#e8501c"/></g>
<g transform="translate(1116.8,373.0)"><rect x="-6.2" y="-6.2" width="12.4" height="12.4" rx="1.3" fill="#e84a18"/><path d="M-4,-1.8 q0,-1 1,-1 h6 q1,0 1,1 v2.6 h-8 z" fill="#fff"/><circle cx="-2.2" cy="1.6" r="0.9" fill="#fff"/><circle cx="2.2" cy="1.6" r="0.9" fill="#fff"/><rect x="-3.2" y="-2" width="6.4" height="1.3" fill="#e8501c"/></g>
<g transform="translate(107.0,289.2)"><rect x="-6" y="-6" width="12" height="12" rx="0.8" fill="#1a82d2"/><text x="0" y="3.9" font-size="10.5" font-weight="bold" fill="#fff" text-anchor="middle">P</text></g>
<g transform="translate(298.8,374.2)"><rect x="-6" y="-6" width="12" height="12" rx="0.8" fill="#1a82d2"/><text x="0" y="3.9" font-size="10.5" font-weight="bold" fill="#fff" text-anchor="middle">P</text></g>
<g transform="translate(574.7,195.0)"><rect x="-6" y="-6" width="12" height="12" rx="0.8" fill="#1a82d2"/><text x="0" y="3.9" font-size="10.5" font-weight="bold" fill="#fff" text-anchor="middle">P</text></g>
<g transform="translate(613.2,298.0)"><rect x="-6" y="-6" width="12" height="12" rx="0.8" fill="#1a82d2"/><text x="0" y="3.9" font-size="10.5" font-weight="bold" fill="#fff" text-anchor="middle">P</text></g>
<g transform="translate(743.6,156.5)"><rect x="-6" y="-6" width="12" height="12" rx="0.8" fill="#1a82d2"/><text x="0" y="3.9" font-size="10.5" font-weight="bold" fill="#fff" text-anchor="middle">P</text></g>
<g transform="translate(763.8,266.2)"><rect x="-6" y="-6" width="12" height="12" rx="0.8" fill="#1a82d2"/><text x="0" y="3.9" font-size="10.5" font-weight="bold" fill="#fff" text-anchor="middle">P</text></g>
<g transform="translate(824.0,301.2)"><rect x="-6" y="-6" width="12" height="12" rx="0.8" fill="#1a82d2"/><text x="0" y="3.9" font-size="10.5" font-weight="bold" fill="#fff" text-anchor="middle">P</text></g>
<g transform="translate(888.2,436.5)"><rect x="-6" y="-6" width="12" height="12" rx="0.8" fill="#1a82d2"/><text x="0" y="3.9" font-size="10.5" font-weight="bold" fill="#fff" text-anchor="middle">P</text></g>
<g transform="translate(993.0,393.0)"><rect x="-6" y="-6" width="12" height="12" rx="0.8" fill="#1a82d2"/><text x="0" y="3.9" font-size="10.5" font-weight="bold" fill="#fff" text-anchor="middle">P</text></g>
<g transform="translate(1050.8,402.5)"><rect x="-6" y="-6" width="12" height="12" rx="0.8" fill="#1a82d2"/><text x="0" y="3.9" font-size="10.5" font-weight="bold" fill="#fff" text-anchor="middle">P</text></g>
<g transform="translate(1135.0,454.6)"><rect x="-6" y="-6" width="12" height="12" rx="0.8" fill="#1a82d2"/><text x="0" y="3.9" font-size="10.5" font-weight="bold" fill="#fff" text-anchor="middle">P</text></g>
<g transform="translate(138.8,272.0)"><rect x="-5.6" y="-6.3" width="11.2" height="12.6" rx="0.8" fill="#f4fbff" stroke="#c9eaf9" stroke-width="1.1"/><path d="M0.6,-3.3 H-3 V3.3 H0.6" fill="none" stroke="#2a96da" stroke-width="1.1"/><path d="M-1.2,0 H2.6" fill="none" stroke="#2a96da" stroke-width="1.1"/><path d="M2,-1.9 L4.2,0 L2,1.9 Z" fill="#2a96da"/></g>
<g transform="translate(115.0,367.5)"><rect x="-5.6" y="-6.3" width="11.2" height="12.6" rx="0.8" fill="#f4fbff" stroke="#c9eaf9" stroke-width="1.1"/><path d="M0.6,-3.3 H-3 V3.3 H0.6" fill="none" stroke="#2a96da" stroke-width="1.1"/><path d="M-1.2,0 H2.6" fill="none" stroke="#2a96da" stroke-width="1.1"/><path d="M2,-1.9 L4.2,0 L2,1.9 Z" fill="#2a96da"/></g>
<g transform="translate(240.5,379.2)"><rect x="-5.6" y="-6.3" width="11.2" height="12.6" rx="0.8" fill="#f4fbff" stroke="#c9eaf9" stroke-width="1.1"/><path d="M0.6,-3.3 H-3 V3.3 H0.6" fill="none" stroke="#2a96da" stroke-width="1.1"/><path d="M-1.2,0 H2.6" fill="none" stroke="#2a96da" stroke-width="1.1"/><path d="M2,-1.9 L4.2,0 L2,1.9 Z" fill="#2a96da"/></g>
<g transform="translate(329.9,257.3)"><rect x="-5.6" y="-6.3" width="11.2" height="12.6" rx="0.8" fill="#f4fbff" stroke="#c9eaf9" stroke-width="1.1"/><path d="M0.6,-3.3 H-3 V3.3 H0.6" fill="none" stroke="#2a96da" stroke-width="1.1"/><path d="M-1.2,0 H2.6" fill="none" stroke="#2a96da" stroke-width="1.1"/><path d="M2,-1.9 L4.2,0 L2,1.9 Z" fill="#2a96da"/></g>
<g transform="translate(496.0,203.0)"><rect x="-5.6" y="-6.3" width="11.2" height="12.6" rx="0.8" fill="#f4fbff" stroke="#c9eaf9" stroke-width="1.1"/><path d="M0.6,-3.3 H-3 V3.3 H0.6" fill="none" stroke="#2a96da" stroke-width="1.1"/><path d="M-1.2,0 H2.6" fill="none" stroke="#2a96da" stroke-width="1.1"/><path d="M2,-1.9 L4.2,0 L2,1.9 Z" fill="#2a96da"/></g>
<g transform="translate(497.5,271.9)"><rect x="-5.6" y="-6.3" width="11.2" height="12.6" rx="0.8" fill="#f4fbff" stroke="#c9eaf9" stroke-width="1.1"/><path d="M0.6,-3.3 H-3 V3.3 H0.6" fill="none" stroke="#2a96da" stroke-width="1.1"/><path d="M-1.2,0 H2.6" fill="none" stroke="#2a96da" stroke-width="1.1"/><path d="M2,-1.9 L4.2,0 L2,1.9 Z" fill="#2a96da"/></g>
<g transform="translate(667.7,222.2)"><rect x="-5.6" y="-6.3" width="11.2" height="12.6" rx="0.8" fill="#f4fbff" stroke="#c9eaf9" stroke-width="1.1"/><path d="M0.6,-3.3 H-3 V3.3 H0.6" fill="none" stroke="#2a96da" stroke-width="1.1"/><path d="M-1.2,0 H2.6" fill="none" stroke="#2a96da" stroke-width="1.1"/><path d="M2,-1.9 L4.2,0 L2,1.9 Z" fill="#2a96da"/></g>
<g transform="translate(716.2,203.2)"><rect x="-5.6" y="-6.3" width="11.2" height="12.6" rx="0.8" fill="#f4fbff" stroke="#c9eaf9" stroke-width="1.1"/><path d="M0.6,-3.3 H-3 V3.3 H0.6" fill="none" stroke="#2a96da" stroke-width="1.1"/><path d="M-1.2,0 H2.6" fill="none" stroke="#2a96da" stroke-width="1.1"/><path d="M2,-1.9 L4.2,0 L2,1.9 Z" fill="#2a96da"/></g>
<g transform="translate(813.8,251.2)"><rect x="-5.6" y="-6.3" width="11.2" height="12.6" rx="0.8" fill="#f4fbff" stroke="#c9eaf9" stroke-width="1.1"/><path d="M0.6,-3.3 H-3 V3.3 H0.6" fill="none" stroke="#2a96da" stroke-width="1.1"/><path d="M-1.2,0 H2.6" fill="none" stroke="#2a96da" stroke-width="1.1"/><path d="M2,-1.9 L4.2,0 L2,1.9 Z" fill="#2a96da"/></g>
<g transform="translate(1037.5,302.5)"><rect x="-5.6" y="-6.3" width="11.2" height="12.6" rx="0.8" fill="#f4fbff" stroke="#c9eaf9" stroke-width="1.1"/><path d="M0.6,-3.3 H-3 V3.3 H0.6" fill="none" stroke="#2a96da" stroke-width="1.1"/><path d="M-1.2,0 H2.6" fill="none" stroke="#2a96da" stroke-width="1.1"/><path d="M2,-1.9 L4.2,0 L2,1.9 Z" fill="#2a96da"/></g>
<g transform="translate(850.0,398.8)"><rect x="-5.6" y="-6.3" width="11.2" height="12.6" rx="0.8" fill="#f4fbff" stroke="#c9eaf9" stroke-width="1.1"/><path d="M0.6,-3.3 H-3 V3.3 H0.6" fill="none" stroke="#2a96da" stroke-width="1.1"/><path d="M-1.2,0 H2.6" fill="none" stroke="#2a96da" stroke-width="1.1"/><path d="M2,-1.9 L4.2,0 L2,1.9 Z" fill="#2a96da"/></g>
<g transform="translate(1115.0,388.0)"><rect x="-5.6" y="-6.3" width="11.2" height="12.6" rx="0.8" fill="#f4fbff" stroke="#c9eaf9" stroke-width="1.1"/><path d="M0.6,-3.3 H-3 V3.3 H0.6" fill="none" stroke="#2a96da" stroke-width="1.1"/><path d="M-1.2,0 H2.6" fill="none" stroke="#2a96da" stroke-width="1.1"/><path d="M2,-1.9 L4.2,0 L2,1.9 Z" fill="#2a96da"/></g>
<g transform="translate(978.2,488.0)"><rect x="-5.6" y="-6.3" width="11.2" height="12.6" rx="0.8" fill="#f4fbff" stroke="#c9eaf9" stroke-width="1.1"/><path d="M0.6,-3.3 H-3 V3.3 H0.6" fill="none" stroke="#2a96da" stroke-width="1.1"/><path d="M-1.2,0 H2.6" fill="none" stroke="#2a96da" stroke-width="1.1"/><path d="M2,-1.9 L4.2,0 L2,1.9 Z" fill="#2a96da"/></g>
<g transform="translate(282.5,305.0)"><rect x="-4.8" y="-5.3" width="9.6" height="10.6" rx="1.2" fill="#e11b2c" stroke="#fdeff0" stroke-width="1.3"/><path d="M-1.7,-3.4 v6.6 M1.7,-3.4 v6.6" stroke="#fff" stroke-width="1.1" fill="none"/><path d="M-2.6,-3.4 v2 h1.8 v-2 M0.9,-3.4 v2.4 h1.6 v-2.4" stroke="#fff" stroke-width="0.5" fill="none"/></g>
<g transform="translate(242.0,348.8)"><rect x="-4.8" y="-5.3" width="9.6" height="10.6" rx="1.2" fill="#e11b2c" stroke="#fdeff0" stroke-width="1.3"/><path d="M-1.7,-3.4 v6.6 M1.7,-3.4 v6.6" stroke="#fff" stroke-width="1.1" fill="none"/><path d="M-2.6,-3.4 v2 h1.8 v-2 M0.9,-3.4 v2.4 h1.6 v-2.4" stroke="#fff" stroke-width="0.5" fill="none"/></g>
<g transform="translate(380.4,275.0)"><rect x="-4.8" y="-5.3" width="9.6" height="10.6" rx="1.2" fill="#e11b2c" stroke="#fdeff0" stroke-width="1.3"/><path d="M-1.7,-3.4 v6.6 M1.7,-3.4 v6.6" stroke="#fff" stroke-width="1.1" fill="none"/><path d="M-2.6,-3.4 v2 h1.8 v-2 M0.9,-3.4 v2.4 h1.6 v-2.4" stroke="#fff" stroke-width="0.5" fill="none"/></g>
<g transform="translate(438.6,276.5)"><rect x="-4.8" y="-5.3" width="9.6" height="10.6" rx="1.2" fill="#e11b2c" stroke="#fdeff0" stroke-width="1.3"/><path d="M-1.7,-3.4 v6.6 M1.7,-3.4 v6.6" stroke="#fff" stroke-width="1.1" fill="none"/><path d="M-2.6,-3.4 v2 h1.8 v-2 M0.9,-3.4 v2.4 h1.6 v-2.4" stroke="#fff" stroke-width="0.5" fill="none"/></g>
<g transform="translate(466.9,265.8)"><rect x="-4.8" y="-5.3" width="9.6" height="10.6" rx="1.2" fill="#e11b2c" stroke="#fdeff0" stroke-width="1.3"/><path d="M-1.7,-3.4 v6.6 M1.7,-3.4 v6.6" stroke="#fff" stroke-width="1.1" fill="none"/><path d="M-2.6,-3.4 v2 h1.8 v-2 M0.9,-3.4 v2.4 h1.6 v-2.4" stroke="#fff" stroke-width="0.5" fill="none"/></g>
<g transform="translate(631.0,270.0)"><rect x="-4.8" y="-5.3" width="9.6" height="10.6" rx="1.2" fill="#e11b2c" stroke="#fdeff0" stroke-width="1.3"/><path d="M-1.7,-3.4 v6.6 M1.7,-3.4 v6.6" stroke="#fff" stroke-width="1.1" fill="none"/><path d="M-2.6,-3.4 v2 h1.8 v-2 M0.9,-3.4 v2.4 h1.6 v-2.4" stroke="#fff" stroke-width="0.5" fill="none"/></g>
<g transform="translate(714.5,235.4)"><rect x="-4.8" y="-5.3" width="9.6" height="10.6" rx="1.2" fill="#e11b2c" stroke="#fdeff0" stroke-width="1.3"/><path d="M-1.7,-3.4 v6.6 M1.7,-3.4 v6.6" stroke="#fff" stroke-width="1.1" fill="none"/><path d="M-2.6,-3.4 v2 h1.8 v-2 M0.9,-3.4 v2.4 h1.6 v-2.4" stroke="#fff" stroke-width="0.5" fill="none"/></g>
<g transform="translate(801.1,234.6)"><rect x="-4.8" y="-5.3" width="9.6" height="10.6" rx="1.2" fill="#e11b2c" stroke="#fdeff0" stroke-width="1.3"/><path d="M-1.7,-3.4 v6.6 M1.7,-3.4 v6.6" stroke="#fff" stroke-width="1.1" fill="none"/><path d="M-2.6,-3.4 v2 h1.8 v-2 M0.9,-3.4 v2.4 h1.6 v-2.4" stroke="#fff" stroke-width="0.5" fill="none"/></g>
<g transform="translate(923.2,265.5)"><rect x="-4.8" y="-5.3" width="9.6" height="10.6" rx="1.2" fill="#e11b2c" stroke="#fdeff0" stroke-width="1.3"/><path d="M-1.7,-3.4 v6.6 M1.7,-3.4 v6.6" stroke="#fff" stroke-width="1.1" fill="none"/><path d="M-2.6,-3.4 v2 h1.8 v-2 M0.9,-3.4 v2.4 h1.6 v-2.4" stroke="#fff" stroke-width="0.5" fill="none"/></g>
<g transform="translate(855.5,296.5)"><rect x="-4.8" y="-5.3" width="9.6" height="10.6" rx="1.2" fill="#e11b2c" stroke="#fdeff0" stroke-width="1.3"/><path d="M-1.7,-3.4 v6.6 M1.7,-3.4 v6.6" stroke="#fff" stroke-width="1.1" fill="none"/><path d="M-2.6,-3.4 v2 h1.8 v-2 M0.9,-3.4 v2.4 h1.6 v-2.4" stroke="#fff" stroke-width="0.5" fill="none"/></g>
<g transform="translate(1022.5,353.8)"><rect x="-4.8" y="-5.3" width="9.6" height="10.6" rx="1.2" fill="#e11b2c" stroke="#fdeff0" stroke-width="1.3"/><path d="M-1.7,-3.4 v6.6 M1.7,-3.4 v6.6" stroke="#fff" stroke-width="1.1" fill="none"/><path d="M-2.6,-3.4 v2 h1.8 v-2 M0.9,-3.4 v2.4 h1.6 v-2.4" stroke="#fff" stroke-width="0.5" fill="none"/></g>
<g transform="translate(938.2,404.2)"><rect x="-4.8" y="-5.3" width="9.6" height="10.6" rx="1.2" fill="#e11b2c" stroke="#fdeff0" stroke-width="1.3"/><path d="M-1.7,-3.4 v6.6 M1.7,-3.4 v6.6" stroke="#fff" stroke-width="1.1" fill="none"/><path d="M-2.6,-3.4 v2 h1.8 v-2 M0.9,-3.4 v2.4 h1.6 v-2.4" stroke="#fff" stroke-width="0.5" fill="none"/></g>
<g transform="translate(1067.0,393.2)"><rect x="-4.8" y="-5.3" width="9.6" height="10.6" rx="1.2" fill="#e11b2c" stroke="#fdeff0" stroke-width="1.3"/><path d="M-1.7,-3.4 v6.6 M1.7,-3.4 v6.6" stroke="#fff" stroke-width="1.1" fill="none"/><path d="M-2.6,-3.4 v2 h1.8 v-2 M0.9,-3.4 v2.4 h1.6 v-2.4" stroke="#fff" stroke-width="0.5" fill="none"/></g>
<g transform="translate(992.0,464.2)"><rect x="-4.8" y="-5.3" width="9.6" height="10.6" rx="1.2" fill="#e11b2c" stroke="#fdeff0" stroke-width="1.3"/><path d="M-1.7,-3.4 v6.6 M1.7,-3.4 v6.6" stroke="#fff" stroke-width="1.1" fill="none"/><path d="M-2.6,-3.4 v2 h1.8 v-2 M0.9,-3.4 v2.4 h1.6 v-2.4" stroke="#fff" stroke-width="0.5" fill="none"/></g>
<g transform="translate(254.5,270.8)"><rect x="-6" y="-6.2" width="12" height="12.4" rx="1.3" fill="#e0141e"/><path d="M-3.6,0 h7.2 M0,-3.6 v7.2" stroke="#fff" stroke-width="2.2"/></g>
<g transform="translate(963.8,248.8)"><rect x="-6" y="-6.2" width="12" height="12.4" rx="1.3" fill="#e0141e"/><path d="M-3.6,0 h7.2 M0,-3.6 v7.2" stroke="#fff" stroke-width="2.2"/></g>
<polygon points="829.6,366.8 831.2,373.3 837.8,374.4 832.1,377.9 833.1,384.5 828.0,380.2 822.0,383.2 824.6,377.0 819.9,372.3 826.6,372.8" fill="#e8101c"  stroke="#e8101c" stroke-width="0.5" stroke-linejoin="round"/>
<circle cx="337.5" cy="270.4" r="4" fill="#f39a1e" stroke="#fff" stroke-width="1"/><path d="M335,272.4 l5,-4" stroke="#fff" stroke-width="1.6"/>
<g transform="translate(699.3,211)"><rect x="-6.4" y="-6.4" width="12.8" height="12.8" fill="#fff"/><path d="M-4.4,3.2 l1.9,-3 h-1.1 l1.6,-2.6 h-0.9 l1.5,-2.6 l1.5,2.6 h-0.9 l1.6,2.6 h-1.1 l1.9,3 z M0.4,3.2 l1.5,-2.4 h-0.8 l1.2,-2.2 l1.2,2.2 h-0.8 l1.5,2.4 z" fill="#2f6f38"/><rect x="-1.8" y="3.2" width="0.9" height="1.4" fill="#2f6f38"/></g>
<g transform="translate(1105.2,492)"><path d="M-13.5,-3 q0,-2 2,-2 h21 q3.5,0 4,3.2 v5.6 q0,1.2 -1.2,1.2 h-24.6 q-1.2,0 -1.2,-1.2 z" fill="#1a72c4"/><rect x="-11.8" y="-3.4" width="4.2" height="3.4" rx="0.5" fill="#fff"/><rect x="-6.4" y="-3.4" width="4.2" height="3.4" rx="0.5" fill="#fff"/><rect x="-1" y="-3.4" width="4.2" height="3.4" rx="0.5" fill="#fff"/><rect x="4.4" y="-3.4" width="4.2" height="3.4" rx="0.5" fill="#fff"/><path d="M9.8,-3.4 h1.6 q1.4,0.4 1.8,3.4 h-3.4 z" fill="#fff"/><circle cx="-6.8" cy="5.2" r="2.4" fill="#1a72c4" stroke="#fff" stroke-width="1"/><circle cx="7.2" cy="5.2" r="2.4" fill="#1a72c4" stroke="#fff" stroke-width="1"/><path d="M-13,-10.6 h5 M-13,-8.4 h5 M-10.5,-11.5 v5.6 M-12.6,-6.6 l2,-1.6 M-8.4,-6.6 l-2,-1.6 M-6,-10.8 h5.4 M-6,-8.2 h5.4 M-3.3,-11.6 v5.8 M-5.6,-6.4 h4.6 M0.8,-10.6 h5.4 M0.8,-6.2 h5.4 M3.5,-11.6 v5.4 M1.4,-8.6 h4.2" stroke="#1a72c4" stroke-width="0.75" fill="none"/></g>
</g>
<g id="labels">
<text x="102.5" y="175.5" font-size="16.4" fill="#262626" stroke="#fff" stroke-width="0.12" text-rendering="geometricPrecision" textLength="159" lengthAdjust="spacingAndGlyphs">International Trade</text>
<text x="102.5" y="198.25" font-size="16.4" fill="#262626" stroke="#fff" stroke-width="0.12" text-rendering="geometricPrecision" textLength="114.5" lengthAdjust="spacingAndGlyphs">Mart District 1</text>
<polyline points="102.0,207.0 236.0,207.0" fill="none" stroke="#c2c2c2" stroke-width="1" />
<polyline points="236.0,207.0 273.0,247.0" fill="none" stroke="#6e6e6e" stroke-width="0.8" />
<text x="290" y="150.75" font-size="16.4" fill="#262626" stroke="#fff" stroke-width="0.12" text-rendering="geometricPrecision" textLength="159" lengthAdjust="spacingAndGlyphs">International Trade</text>
<text x="290" y="173.5" font-size="16.4" fill="#262626" stroke="#fff" stroke-width="0.12" text-rendering="geometricPrecision" textLength="117.5" lengthAdjust="spacingAndGlyphs">Mart District 2</text>
<polyline points="290.0,181.8 457.5,181.8" fill="none" stroke="#c2c2c2" stroke-width="1" />
<polyline points="457.5,181.8 496.0,222.8" fill="none" stroke="#6e6e6e" stroke-width="0.8" />
<text x="930.75" y="171.25" font-size="16.4" fill="#262626" stroke="#fff" stroke-width="0.12" text-rendering="geometricPrecision" textLength="159.25" lengthAdjust="spacingAndGlyphs">International Trade</text>
<text x="930.75" y="193.25" font-size="16.4" fill="#262626" stroke="#fff" stroke-width="0.12" text-rendering="geometricPrecision" textLength="118" lengthAdjust="spacingAndGlyphs">Mart District 3</text>
<polyline points="895.0,206.8 1088.8,206.8" fill="none" stroke="#c2c2c2" stroke-width="1" />
<text x="982" y="234.3" font-size="16.4" fill="#262626" stroke="#fff" stroke-width="0.12" text-rendering="geometricPrecision" textLength="160" lengthAdjust="spacingAndGlyphs">International Trade</text>
<text x="982" y="255.9" font-size="16.4" fill="#262626" stroke="#fff" stroke-width="0.12" text-rendering="geometricPrecision" textLength="118" lengthAdjust="spacingAndGlyphs">Mart District 4</text>
<polyline points="952.0,265.7 1135.5,265.7" fill="none" stroke="#c2c2c2" stroke-width="1" />
<text x="1124.4" y="308" font-size="16.4" fill="#262626" stroke="#fff" stroke-width="0.12" text-rendering="geometricPrecision" textLength="159.3" lengthAdjust="spacingAndGlyphs">International Trade</text>
<text x="1124.4" y="328.4" font-size="16.4" fill="#262626" stroke="#fff" stroke-width="0.12" text-rendering="geometricPrecision" textLength="114.5" lengthAdjust="spacingAndGlyphs">Mart District 5</text>
<polyline points="1137.0,340.1 1310.6,340.1" fill="none" stroke="#c2c2c2" stroke-width="1" />
<polyline points="1096.0,376.0 1137.0,340.1" fill="none" stroke="#6e6e6e" stroke-width="0.8" />
<text x="354.4" y="398.4" font-size="17.3" fill="#333" stroke="#fff" stroke-width="0" text-rendering="geometricPrecision" textLength="158" lengthAdjust="spacingAndGlyphs">International Trade</text>
<text x="354.4" y="420.8" font-size="17.3" fill="#333" stroke="#fff" stroke-width="0" text-rendering="geometricPrecision" textLength="159.3" lengthAdjust="spacingAndGlyphs">Mart District 1-East</text>
<polyline points="343.4,431.8 517.7,431.8" fill="none" stroke="#c2c2c2" stroke-width="1" />
<polyline points="262.0,357.0 343.4,431.8" fill="none" stroke="#6e6e6e" stroke-width="0.8" />
<text x="541.4" y="356" font-size="16.6" fill="#333" stroke="#fff" stroke-width="0" text-rendering="geometricPrecision" textLength="153.6" lengthAdjust="spacingAndGlyphs">International Trade</text>
<text x="541.4" y="375" font-size="16.6" fill="#333" stroke="#fff" stroke-width="0" text-rendering="geometricPrecision" textLength="162.6" lengthAdjust="spacingAndGlyphs">Mart District 2 - East</text>
<polyline points="533.7,388.4 709.0,388.4" fill="none" stroke="#c2c2c2" stroke-width="1" />
<polyline points="461.5,311.7 533.7,388.4" fill="none" stroke="#6e6e6e" stroke-width="0.8" />
</g>
</g>
</svg>
</body></html>
